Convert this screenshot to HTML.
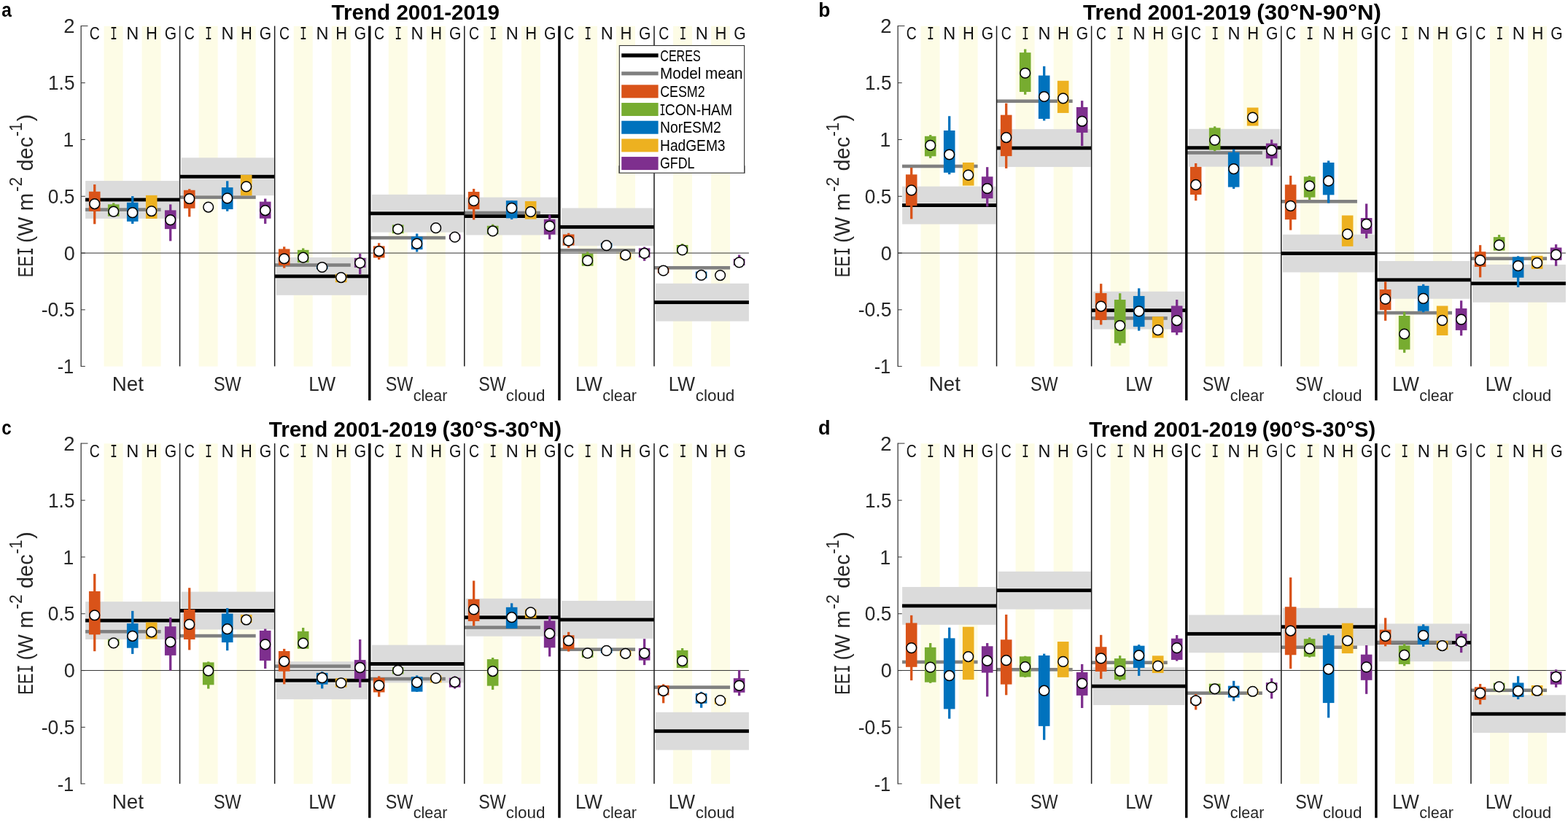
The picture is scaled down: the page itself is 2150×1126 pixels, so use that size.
<!DOCTYPE html>
<html lang="en">
<head>
<meta charset="utf-8">
<title>EEI trends 2001-2019</title>
<style>
html,body{margin:0;padding:0;background:#fff;}
body{width:2150px;height:1126px;overflow:hidden;}
svg{display:block;font-family:'Liberation Sans', 'DejaVu Sans', sans-serif;}
</style>
</head>
<body>
<svg width="2150" height="1126" viewBox="0 0 2150 1126">
<rect width="2150" height="1126" fill="#fff"/>
<g id="panel-a" transform="translate(0,0)">
<rect x="142.53" y="35.8" width="26.02" height="466.7" fill="#FDFCE6"/>
<rect x="194.57" y="35.8" width="26.02" height="466.7" fill="#FDFCE6"/>
<rect x="272.61" y="35.8" width="26.02" height="466.7" fill="#FDFCE6"/>
<rect x="324.65" y="35.8" width="26.02" height="466.7" fill="#FDFCE6"/>
<rect x="402.69" y="35.8" width="26.02" height="466.7" fill="#FDFCE6"/>
<rect x="454.73" y="35.8" width="26.02" height="466.7" fill="#FDFCE6"/>
<rect x="532.77" y="35.8" width="26.02" height="466.7" fill="#FDFCE6"/>
<rect x="584.81" y="35.8" width="26.02" height="466.7" fill="#FDFCE6"/>
<rect x="662.85" y="35.8" width="26.02" height="466.7" fill="#FDFCE6"/>
<rect x="714.89" y="35.8" width="26.02" height="466.7" fill="#FDFCE6"/>
<rect x="792.93" y="35.8" width="26.02" height="466.7" fill="#FDFCE6"/>
<rect x="844.97" y="35.8" width="26.02" height="466.7" fill="#FDFCE6"/>
<rect x="923.01" y="35.8" width="26.02" height="466.7" fill="#FDFCE6"/>
<rect x="975.05" y="35.8" width="26.02" height="466.7" fill="#FDFCE6"/>
<rect x="117.12" y="248.03" width="128.33" height="51.8" fill="#DBDBDB"/>
<rect x="117.12" y="270.58" width="128.33" height="6.7" fill="#EEEEEE"/>
<rect x="248.65" y="216.33" width="126.88" height="51.8" fill="#DBDBDB"/>
<rect x="248.65" y="238.88" width="126.88" height="6.7" fill="#EEEEEE"/>
<rect x="378.73" y="353.03" width="125.73" height="51.8" fill="#DBDBDB"/>
<rect x="378.73" y="375.58" width="125.73" height="6.7" fill="#EEEEEE"/>
<rect x="509.96" y="266.84" width="125.73" height="51.8" fill="#DBDBDB"/>
<rect x="509.96" y="289.39" width="125.73" height="6.7" fill="#EEEEEE"/>
<rect x="638.89" y="270.61" width="125.73" height="51.8" fill="#DBDBDB"/>
<rect x="638.89" y="293.16" width="125.73" height="6.7" fill="#EEEEEE"/>
<rect x="770.12" y="285.4" width="125.73" height="51.8" fill="#DBDBDB"/>
<rect x="770.12" y="307.95" width="125.73" height="6.7" fill="#EEEEEE"/>
<rect x="899.05" y="388.77" width="127.85" height="51.8" fill="#DBDBDB"/>
<rect x="899.05" y="411.32" width="127.85" height="6.7" fill="#EEEEEE"/>
<rect x="111.15" y="346.55" width="915.75" height="1" fill="#333"/>
<rect x="117.02" y="271.48" width="129.58" height="4.9" fill="#000"/>
<rect x="246.6" y="239.78" width="130.08" height="4.9" fill="#000"/>
<rect x="376.68" y="376.48" width="130.08" height="4.9" fill="#000"/>
<rect x="506.76" y="290.29" width="130.08" height="4.9" fill="#000"/>
<rect x="636.84" y="294.06" width="130.08" height="4.9" fill="#000"/>
<rect x="766.92" y="308.85" width="130.08" height="4.9" fill="#000"/>
<rect x="897" y="412.22" width="129.9" height="4.9" fill="#000"/>
<rect x="117.02" y="285.25" width="103.56" height="4.6" fill="#808080"/>
<rect x="246.6" y="268.26" width="104.06" height="4.6" fill="#808080"/>
<rect x="376.68" y="361.25" width="104.06" height="4.6" fill="#808080"/>
<rect x="506.76" y="323.85" width="104.06" height="4.6" fill="#808080"/>
<rect x="636.84" y="289.66" width="104.06" height="4.6" fill="#808080"/>
<rect x="766.92" y="341.04" width="104.06" height="4.6" fill="#808080"/>
<rect x="897" y="364.96" width="104.06" height="4.6" fill="#808080"/>
<rect x="245.8" y="35.6" width="1.5" height="466.8" fill="#1c1c1c"/>
<rect x="375.88" y="35.6" width="1.5" height="466.8" fill="#1c1c1c"/>
<rect x="505.06" y="35.6" width="3.4" height="513.6" fill="#000"/>
<rect x="636.04" y="35.6" width="1.5" height="466.8" fill="#1c1c1c"/>
<rect x="765.22" y="35.6" width="3.4" height="513.6" fill="#000"/>
<rect x="896.2" y="35.6" width="1.5" height="466.8" fill="#1c1c1c"/>
<rect x="110.55" y="35.1" width="1.2" height="467.8" fill="#2e2e2e"/>
<rect x="111.15" y="35.1" width="9.3" height="1" fill="#333"/>
<rect x="111.15" y="113.15" width="5.6" height="1" fill="#333"/>
<rect x="111.15" y="190.95" width="5.6" height="1" fill="#333"/>
<rect x="111.15" y="268.75" width="5.6" height="1" fill="#333"/>
<rect x="111.15" y="346.55" width="5.6" height="1" fill="#333"/>
<rect x="111.15" y="424.35" width="5.6" height="1" fill="#333"/>
<rect x="111.15" y="501.9" width="5.6" height="1" fill="#333"/>
<rect x="128.08" y="252.98" width="3.3" height="54.31" fill="#D95319"/>
<rect x="121.93" y="262.74" width="15.6" height="26.96" fill="#D95319"/>
<rect x="154.07" y="278.37" width="3.3" height="18.56" fill="#77AC30"/>
<rect x="147.92" y="280.33" width="15.6" height="16.21" fill="#77AC30"/>
<rect x="180.07" y="269" width="3.3" height="37.9" fill="#0072BD"/>
<rect x="173.92" y="277.79" width="15.6" height="25.98" fill="#0072BD"/>
<rect x="199.91" y="267.82" width="15.6" height="32.04" fill="#EDB120"/>
<rect x="232.06" y="280.33" width="3.3" height="50.21" fill="#7E2F8E"/>
<rect x="225.91" y="288.34" width="15.6" height="25.79" fill="#7E2F8E"/>
<rect x="258.06" y="259.23" width="3.3" height="38.09" fill="#D95319"/>
<rect x="251.91" y="260.79" width="15.6" height="25" fill="#D95319"/>
<rect x="310.05" y="248.29" width="3.3" height="41.41" fill="#0072BD"/>
<rect x="303.9" y="257.08" width="15.6" height="29.89" fill="#0072BD"/>
<rect x="329.89" y="239.89" width="15.6" height="28.33" fill="#EDB120"/>
<rect x="362.04" y="272.51" width="3.3" height="34.38" fill="#7E2F8E"/>
<rect x="355.89" y="276.61" width="15.6" height="23.05" fill="#7E2F8E"/>
<rect x="388.04" y="338.35" width="3.3" height="29.3" fill="#D95319"/>
<rect x="381.89" y="341.47" width="15.6" height="22.47" fill="#D95319"/>
<rect x="414.03" y="340.49" width="3.3" height="19.93" fill="#77AC30"/>
<rect x="407.88" y="342.84" width="15.6" height="17.19" fill="#77AC30"/>
<rect x="433.88" y="364.33" width="15.6" height="4.88" fill="#0072BD"/>
<rect x="459.87" y="375.66" width="15.6" height="11.53" fill="#EDB120"/>
<rect x="492.02" y="347.92" width="3.3" height="28.13" fill="#7E2F8E"/>
<rect x="485.87" y="353.97" width="15.6" height="12.89" fill="#7E2F8E"/>
<rect x="518.02" y="333.38" width="3.3" height="22.66" fill="#D95319"/>
<rect x="511.87" y="337.48" width="15.6" height="16.02" fill="#D95319"/>
<rect x="537.86" y="308.37" width="15.6" height="11.72" fill="#77AC30"/>
<rect x="570.01" y="320.48" width="3.3" height="25" fill="#0072BD"/>
<rect x="563.86" y="324.59" width="15.6" height="17.58" fill="#0072BD"/>
<rect x="615.85" y="321.66" width="15.6" height="6.64" fill="#7E2F8E"/>
<rect x="648" y="258.95" width="3.3" height="42.39" fill="#D95319"/>
<rect x="641.85" y="263.05" width="15.6" height="24.03" fill="#D95319"/>
<rect x="673.99" y="307.59" width="3.3" height="14.46" fill="#77AC30"/>
<rect x="667.84" y="309.74" width="15.6" height="11.33" fill="#77AC30"/>
<rect x="699.99" y="275.16" width="3.3" height="25.79" fill="#0072BD"/>
<rect x="693.84" y="275.16" width="15.6" height="24.22" fill="#0072BD"/>
<rect x="719.83" y="275.94" width="15.6" height="24.61" fill="#EDB120"/>
<rect x="751.98" y="294.7" width="3.3" height="33.6" fill="#7E2F8E"/>
<rect x="745.83" y="300.75" width="15.6" height="20.9" fill="#7E2F8E"/>
<rect x="777.98" y="319.7" width="3.3" height="20.32" fill="#D95319"/>
<rect x="771.83" y="321.46" width="15.6" height="15.04" fill="#D95319"/>
<rect x="803.97" y="345.49" width="3.3" height="19.54" fill="#77AC30"/>
<rect x="797.82" y="347.83" width="15.6" height="16.8" fill="#77AC30"/>
<rect x="823.82" y="333.38" width="15.6" height="6.25" fill="#0072BD"/>
<rect x="849.81" y="346.47" width="15.6" height="9.18" fill="#EDB120"/>
<rect x="881.96" y="338.65" width="3.3" height="19.14" fill="#7E2F8E"/>
<rect x="875.81" y="340.41" width="15.6" height="12.7" fill="#7E2F8E"/>
<rect x="901.81" y="367.52" width="15.6" height="7.16" fill="#D95319"/>
<rect x="933.95" y="334.24" width="3.3" height="13.44" fill="#77AC30"/>
<rect x="927.8" y="336" width="15.6" height="11.68" fill="#77AC30"/>
<rect x="953.8" y="372.54" width="15.6" height="9.04" fill="#0072BD"/>
<rect x="1011.94" y="349.56" width="3.3" height="14.69" fill="#7E2F8E"/>
<rect x="1005.79" y="354.96" width="15.6" height="9.04" fill="#7E2F8E"/>
<circle cx="129.73" cy="279.54" r="6.85" fill="#fff" stroke="#000" stroke-width="1.5"/>
<circle cx="155.72" cy="290.09" r="6.85" fill="#fff" stroke="#000" stroke-width="1.5"/>
<circle cx="181.72" cy="291.66" r="6.85" fill="#fff" stroke="#000" stroke-width="1.5"/>
<circle cx="207.71" cy="289.51" r="6.85" fill="#fff" stroke="#000" stroke-width="1.5"/>
<circle cx="233.71" cy="301.62" r="6.85" fill="#fff" stroke="#000" stroke-width="1.5"/>
<circle cx="259.71" cy="272.51" r="6.85" fill="#fff" stroke="#000" stroke-width="1.5"/>
<circle cx="285.7" cy="284.04" r="6.85" fill="#fff" stroke="#000" stroke-width="1.5"/>
<circle cx="311.7" cy="271.93" r="6.85" fill="#fff" stroke="#000" stroke-width="1.5"/>
<circle cx="337.69" cy="255.91" r="6.85" fill="#fff" stroke="#000" stroke-width="1.5"/>
<circle cx="363.69" cy="288.53" r="6.85" fill="#fff" stroke="#000" stroke-width="1.5"/>
<circle cx="389.69" cy="354.75" r="6.85" fill="#fff" stroke="#000" stroke-width="1.5"/>
<circle cx="415.68" cy="353.19" r="6.85" fill="#fff" stroke="#000" stroke-width="1.5"/>
<circle cx="441.68" cy="366.48" r="6.85" fill="#fff" stroke="#000" stroke-width="1.5"/>
<circle cx="467.67" cy="380.54" r="6.85" fill="#fff" stroke="#000" stroke-width="1.5"/>
<circle cx="493.67" cy="360.62" r="6.85" fill="#fff" stroke="#000" stroke-width="1.5"/>
<circle cx="519.67" cy="344.51" r="6.85" fill="#fff" stroke="#000" stroke-width="1.5"/>
<circle cx="545.66" cy="314.23" r="6.85" fill="#fff" stroke="#000" stroke-width="1.5"/>
<circle cx="571.66" cy="334.16" r="6.85" fill="#fff" stroke="#000" stroke-width="1.5"/>
<circle cx="597.65" cy="312.67" r="6.85" fill="#fff" stroke="#000" stroke-width="1.5"/>
<circle cx="623.65" cy="325.17" r="6.85" fill="#fff" stroke="#000" stroke-width="1.5"/>
<circle cx="649.65" cy="275.36" r="6.85" fill="#fff" stroke="#000" stroke-width="1.5"/>
<circle cx="675.64" cy="316.97" r="6.85" fill="#fff" stroke="#000" stroke-width="1.5"/>
<circle cx="701.64" cy="285.32" r="6.85" fill="#fff" stroke="#000" stroke-width="1.5"/>
<circle cx="727.63" cy="290.4" r="6.85" fill="#fff" stroke="#000" stroke-width="1.5"/>
<circle cx="753.63" cy="310.13" r="6.85" fill="#fff" stroke="#000" stroke-width="1.5"/>
<circle cx="779.63" cy="330.25" r="6.85" fill="#fff" stroke="#000" stroke-width="1.5"/>
<circle cx="805.62" cy="357.41" r="6.85" fill="#fff" stroke="#000" stroke-width="1.5"/>
<circle cx="831.62" cy="336.7" r="6.85" fill="#fff" stroke="#000" stroke-width="1.5"/>
<circle cx="857.61" cy="349.79" r="6.85" fill="#fff" stroke="#000" stroke-width="1.5"/>
<circle cx="883.61" cy="347.44" r="6.85" fill="#fff" stroke="#000" stroke-width="1.5"/>
<circle cx="909.61" cy="371.16" r="6.85" fill="#fff" stroke="#000" stroke-width="1.5"/>
<circle cx="935.6" cy="342.9" r="6.85" fill="#fff" stroke="#000" stroke-width="1.5"/>
<circle cx="961.6" cy="377.44" r="6.85" fill="#fff" stroke="#000" stroke-width="1.5"/>
<circle cx="987.59" cy="377.56" r="6.85" fill="#fff" stroke="#000" stroke-width="1.5"/>
<circle cx="1013.59" cy="359.86" r="6.85" fill="#fff" stroke="#000" stroke-width="1.5"/>
<g class="models">
<text x="122.73" y="54" font-size="24.5" fill="#111" textLength="13.99" lengthAdjust="spacingAndGlyphs">C</text>
<text x="150.95" y="54" font-size="25.6" font-family="'Liberation Mono', monospace" fill="#111" textLength="9.9" lengthAdjust="spacingAndGlyphs">I</text>
<text x="173.31" y="54" font-size="24.5" fill="#111" textLength="17.02" lengthAdjust="spacingAndGlyphs">N</text>
<text x="200.04" y="54" font-size="24.5" fill="#111" textLength="15.86" lengthAdjust="spacingAndGlyphs">H</text>
<text x="225.65" y="54" font-size="24.5" fill="#111" textLength="16.39" lengthAdjust="spacingAndGlyphs">G</text>
<text x="252.81" y="54" font-size="24.5" fill="#111" textLength="13.99" lengthAdjust="spacingAndGlyphs">C</text>
<text x="281.03" y="54" font-size="25.6" font-family="'Liberation Mono', monospace" fill="#111" textLength="9.9" lengthAdjust="spacingAndGlyphs">I</text>
<text x="303.39" y="54" font-size="24.5" fill="#111" textLength="17.02" lengthAdjust="spacingAndGlyphs">N</text>
<text x="330.12" y="54" font-size="24.5" fill="#111" textLength="15.86" lengthAdjust="spacingAndGlyphs">H</text>
<text x="355.73" y="54" font-size="24.5" fill="#111" textLength="16.39" lengthAdjust="spacingAndGlyphs">G</text>
<text x="382.89" y="54" font-size="24.5" fill="#111" textLength="13.99" lengthAdjust="spacingAndGlyphs">C</text>
<text x="411.11" y="54" font-size="25.6" font-family="'Liberation Mono', monospace" fill="#111" textLength="9.9" lengthAdjust="spacingAndGlyphs">I</text>
<text x="433.47" y="54" font-size="24.5" fill="#111" textLength="17.02" lengthAdjust="spacingAndGlyphs">N</text>
<text x="460.2" y="54" font-size="24.5" fill="#111" textLength="15.86" lengthAdjust="spacingAndGlyphs">H</text>
<text x="485.81" y="54" font-size="24.5" fill="#111" textLength="16.39" lengthAdjust="spacingAndGlyphs">G</text>
<text x="512.97" y="54" font-size="24.5" fill="#111" textLength="13.99" lengthAdjust="spacingAndGlyphs">C</text>
<text x="541.19" y="54" font-size="25.6" font-family="'Liberation Mono', monospace" fill="#111" textLength="9.9" lengthAdjust="spacingAndGlyphs">I</text>
<text x="563.55" y="54" font-size="24.5" fill="#111" textLength="17.02" lengthAdjust="spacingAndGlyphs">N</text>
<text x="590.28" y="54" font-size="24.5" fill="#111" textLength="15.86" lengthAdjust="spacingAndGlyphs">H</text>
<text x="615.89" y="54" font-size="24.5" fill="#111" textLength="16.39" lengthAdjust="spacingAndGlyphs">G</text>
<text x="643.05" y="54" font-size="24.5" fill="#111" textLength="13.99" lengthAdjust="spacingAndGlyphs">C</text>
<text x="671.27" y="54" font-size="25.6" font-family="'Liberation Mono', monospace" fill="#111" textLength="9.9" lengthAdjust="spacingAndGlyphs">I</text>
<text x="693.63" y="54" font-size="24.5" fill="#111" textLength="17.02" lengthAdjust="spacingAndGlyphs">N</text>
<text x="720.36" y="54" font-size="24.5" fill="#111" textLength="15.86" lengthAdjust="spacingAndGlyphs">H</text>
<text x="745.97" y="54" font-size="24.5" fill="#111" textLength="16.39" lengthAdjust="spacingAndGlyphs">G</text>
<text x="773.13" y="54" font-size="24.5" fill="#111" textLength="13.99" lengthAdjust="spacingAndGlyphs">C</text>
<text x="801.35" y="54" font-size="25.6" font-family="'Liberation Mono', monospace" fill="#111" textLength="9.9" lengthAdjust="spacingAndGlyphs">I</text>
<text x="823.71" y="54" font-size="24.5" fill="#111" textLength="17.02" lengthAdjust="spacingAndGlyphs">N</text>
<text x="850.44" y="54" font-size="24.5" fill="#111" textLength="15.86" lengthAdjust="spacingAndGlyphs">H</text>
<text x="876.05" y="54" font-size="24.5" fill="#111" textLength="16.39" lengthAdjust="spacingAndGlyphs">G</text>
<text x="903.21" y="54" font-size="24.5" fill="#111" textLength="13.99" lengthAdjust="spacingAndGlyphs">C</text>
<text x="931.43" y="54" font-size="25.6" font-family="'Liberation Mono', monospace" fill="#111" textLength="9.9" lengthAdjust="spacingAndGlyphs">I</text>
<text x="953.79" y="54" font-size="24.5" fill="#111" textLength="17.02" lengthAdjust="spacingAndGlyphs">N</text>
<text x="980.52" y="54" font-size="24.5" fill="#111" textLength="15.86" lengthAdjust="spacingAndGlyphs">H</text>
<text x="1006.13" y="54" font-size="24.5" fill="#111" textLength="16.39" lengthAdjust="spacingAndGlyphs">G</text>
</g>
<text x="87.33" y="45.45" font-size="27.5" fill="#262626" textLength="15.28" lengthAdjust="spacingAndGlyphs">2</text>
<text x="66.09" y="123.25" font-size="27.5" fill="#262626" textLength="36.36" lengthAdjust="spacingAndGlyphs">1.5</text>
<text x="86.61" y="201.05" font-size="27.5" fill="#262626" textLength="14.75" lengthAdjust="spacingAndGlyphs">1</text>
<text x="65.85" y="278.85" font-size="27.5" fill="#262626" textLength="36.5" lengthAdjust="spacingAndGlyphs">0.5</text>
<text x="87.72" y="356.65" font-size="27.5" fill="#262626" textLength="14.99" lengthAdjust="spacingAndGlyphs">0</text>
<text x="56.71" y="434.45" font-size="27.5" fill="#262626" textLength="45.74" lengthAdjust="spacingAndGlyphs">-0.5</text>
<text x="78.66" y="512.25" font-size="27.5" fill="#262626" textLength="22.59" lengthAdjust="spacingAndGlyphs">-1</text>
<text x="153.79" y="536.4" font-size="27.7" fill="#262626" textLength="43.09" lengthAdjust="spacingAndGlyphs">Net</text>
<text x="292.94" y="536.4" font-size="27.7" fill="#262626" textLength="37.79" lengthAdjust="spacingAndGlyphs">SW</text>
<text x="423.23" y="536.4" font-size="27.7" fill="#262626" textLength="36.81" lengthAdjust="spacingAndGlyphs">LW</text>
<text y="536.4" font-size="27.7" fill="#262626"><tspan x="528.75" textLength="37.69" lengthAdjust="spacingAndGlyphs">SW</tspan><tspan x="566.84" dy="13.25" font-size="22.3" textLength="46.44" lengthAdjust="spacingAndGlyphs">clear</tspan></text>
<text y="536.4" font-size="27.7" fill="#262626"><tspan x="656.25" textLength="37.48" lengthAdjust="spacingAndGlyphs">SW</tspan><tspan x="693.89" dy="13.25" font-size="22.3" textLength="53.68" lengthAdjust="spacingAndGlyphs">cloud</tspan></text>
<text y="536.4" font-size="27.7" fill="#262626"><tspan x="789.03" textLength="36.81" lengthAdjust="spacingAndGlyphs">LW</tspan><tspan x="826.23" dy="13.25" font-size="22.3" textLength="46.75" lengthAdjust="spacingAndGlyphs">clear</tspan></text>
<text y="536.4" font-size="27.7" fill="#262626"><tspan x="916.76" textLength="36.28" lengthAdjust="spacingAndGlyphs">LW</tspan><tspan x="953.69" dy="13.25" font-size="22.3" textLength="53.68" lengthAdjust="spacingAndGlyphs">cloud</tspan></text>
<text x="454.6" y="26.9" font-size="30.4" font-weight="bold" fill="#000" textLength="230.31" lengthAdjust="spacingAndGlyphs">Trend 2001-2019</text>
<text x="2.36" y="23.1" font-size="27.6" font-weight="bold" fill="#000" textLength="13.64" lengthAdjust="spacingAndGlyphs">a</text>
<text transform="translate(44.9,0) rotate(-90)" y="0" fill="#262626"><tspan x="-380.15" font-size="30" textLength="29.11" lengthAdjust="spacingAndGlyphs">EE</tspan><tspan x="-350.82" font-size="31.4" font-family="'Liberation Mono', monospace" textLength="11.55" lengthAdjust="spacingAndGlyphs">I</tspan> <tspan x="-333" font-size="30" textLength="35.19" lengthAdjust="spacingAndGlyphs">(W</tspan> <tspan x="-289.21" font-size="30" textLength="24.52" lengthAdjust="spacingAndGlyphs">m</tspan><tspan x="-263.02" dy="-14.6" font-size="24.3" textLength="20.13" lengthAdjust="spacingAndGlyphs">-2</tspan> <tspan x="-234.45" dy="14.6" font-size="30" textLength="46.54" lengthAdjust="spacingAndGlyphs">dec</tspan><tspan x="-187.27" dy="-14.6" font-size="24.3" textLength="19.13" lengthAdjust="spacingAndGlyphs">-1</tspan><tspan x="-166.59" dy="14.6" font-size="30" textLength="9.74" lengthAdjust="spacingAndGlyphs">)</tspan></text>
<rect x="849.3" y="62.5" width="171.3" height="174.7" fill="#fff" stroke="#333" stroke-width="1.1"/>
<rect x="848.4" y="227.2" width="1" height="10.5" fill="#444"/>
<rect x="1020.5" y="227.2" width="1" height="10.5" fill="#444"/>
<rect x="852.2" y="73.35" width="50.4" height="5.3" fill="#000"/>
<text x="905.3" y="83.5" font-size="21.2" fill="#000" textLength="55.33" lengthAdjust="spacingAndGlyphs">CERES</text>
<rect x="852.2" y="98.23" width="50.4" height="5.1" fill="#808080"/>
<text x="905.05" y="108" font-size="21.2" fill="#000" textLength="113.55" lengthAdjust="spacingAndGlyphs">Model mean</text>
<rect x="852.2" y="116.36" width="50.4" height="18" fill="#D95319"/>
<text x="905.21" y="132.6" font-size="21.2" fill="#000" textLength="61.39" lengthAdjust="spacingAndGlyphs">CESM2</text>
<rect x="852.2" y="141.04" width="50.4" height="18" fill="#77AC30"/>
<text y="157.9" fill="#000"><tspan x="904.2" font-size="22.15" font-family="'Liberation Mono', monospace" textLength="8.4" lengthAdjust="spacingAndGlyphs">I</tspan><tspan x="911.73" font-size="21.2" textLength="92.41" lengthAdjust="spacingAndGlyphs">CON-HAM</tspan></text>
<rect x="852.2" y="165.72" width="50.4" height="18" fill="#0072BD"/>
<text x="905.05" y="181.9" font-size="21.2" fill="#000" textLength="83.8" lengthAdjust="spacingAndGlyphs">NorESM2</text>
<rect x="852.2" y="190.4" width="50.4" height="18" fill="#EDB120"/>
<text x="905.07" y="206.6" font-size="21.2" fill="#000" textLength="89.47" lengthAdjust="spacingAndGlyphs">HadGEM3</text>
<rect x="852.2" y="215.08" width="50.4" height="18" fill="#7E2F8E"/>
<text x="905.01" y="231.05" font-size="21.2" fill="#000" textLength="47.46" lengthAdjust="spacingAndGlyphs">GFDL</text>
</g>
<g id="panel-b" transform="translate(1120,0)">
<rect x="142.53" y="35.8" width="26.02" height="466.7" fill="#FDFCE6"/>
<rect x="194.57" y="35.8" width="26.02" height="466.7" fill="#FDFCE6"/>
<rect x="272.61" y="35.8" width="26.02" height="466.7" fill="#FDFCE6"/>
<rect x="324.65" y="35.8" width="26.02" height="466.7" fill="#FDFCE6"/>
<rect x="402.69" y="35.8" width="26.02" height="466.7" fill="#FDFCE6"/>
<rect x="454.73" y="35.8" width="26.02" height="466.7" fill="#FDFCE6"/>
<rect x="532.77" y="35.8" width="26.02" height="466.7" fill="#FDFCE6"/>
<rect x="584.81" y="35.8" width="26.02" height="466.7" fill="#FDFCE6"/>
<rect x="662.85" y="35.8" width="26.02" height="466.7" fill="#FDFCE6"/>
<rect x="714.89" y="35.8" width="26.02" height="466.7" fill="#FDFCE6"/>
<rect x="792.93" y="35.8" width="26.02" height="466.7" fill="#FDFCE6"/>
<rect x="844.97" y="35.8" width="26.02" height="466.7" fill="#FDFCE6"/>
<rect x="923.01" y="35.8" width="26.02" height="466.7" fill="#FDFCE6"/>
<rect x="975.05" y="35.8" width="26.02" height="466.7" fill="#FDFCE6"/>
<rect x="117.12" y="255.66" width="128.33" height="51.8" fill="#DBDBDB"/>
<rect x="117.12" y="278.21" width="128.33" height="6.7" fill="#EEEEEE"/>
<rect x="248.65" y="177.15" width="126.88" height="51.8" fill="#DBDBDB"/>
<rect x="248.65" y="199.7" width="126.88" height="6.7" fill="#EEEEEE"/>
<rect x="378.73" y="399.79" width="125.73" height="51.8" fill="#DBDBDB"/>
<rect x="378.73" y="422.34" width="125.73" height="6.7" fill="#EEEEEE"/>
<rect x="509.96" y="176.82" width="125.73" height="51.8" fill="#DBDBDB"/>
<rect x="509.96" y="199.37" width="125.73" height="6.7" fill="#EEEEEE"/>
<rect x="638.89" y="321.67" width="125.73" height="51.8" fill="#DBDBDB"/>
<rect x="638.89" y="344.22" width="125.73" height="6.7" fill="#EEEEEE"/>
<rect x="770.12" y="357.97" width="125.73" height="51.8" fill="#DBDBDB"/>
<rect x="770.12" y="380.52" width="125.73" height="6.7" fill="#EEEEEE"/>
<rect x="899.05" y="362.89" width="127.85" height="51.8" fill="#DBDBDB"/>
<rect x="899.05" y="385.44" width="127.85" height="6.7" fill="#EEEEEE"/>
<rect x="111.15" y="346.55" width="915.75" height="1" fill="#333"/>
<rect x="117.02" y="279.11" width="129.58" height="4.9" fill="#000"/>
<rect x="246.6" y="200.6" width="130.08" height="4.9" fill="#000"/>
<rect x="376.68" y="423.24" width="130.08" height="4.9" fill="#000"/>
<rect x="506.76" y="200.27" width="130.08" height="4.9" fill="#000"/>
<rect x="636.84" y="345.12" width="130.08" height="4.9" fill="#000"/>
<rect x="766.92" y="381.42" width="130.08" height="4.9" fill="#000"/>
<rect x="897" y="386.34" width="129.9" height="4.9" fill="#000"/>
<rect x="117.02" y="225.7" width="103.56" height="4.6" fill="#808080"/>
<rect x="246.6" y="136.43" width="104.06" height="4.6" fill="#808080"/>
<rect x="376.68" y="434.14" width="104.06" height="4.6" fill="#808080"/>
<rect x="506.76" y="207.21" width="104.06" height="4.6" fill="#808080"/>
<rect x="636.84" y="274.02" width="104.06" height="4.6" fill="#808080"/>
<rect x="766.92" y="426.79" width="104.06" height="4.6" fill="#808080"/>
<rect x="897" y="352.33" width="104.06" height="4.6" fill="#808080"/>
<rect x="245.8" y="35.6" width="1.5" height="466.8" fill="#1c1c1c"/>
<rect x="375.88" y="35.6" width="1.5" height="466.8" fill="#1c1c1c"/>
<rect x="505.06" y="35.6" width="3.4" height="513.6" fill="#000"/>
<rect x="636.04" y="35.6" width="1.5" height="466.8" fill="#1c1c1c"/>
<rect x="765.22" y="35.6" width="3.4" height="513.6" fill="#000"/>
<rect x="896.2" y="35.6" width="1.5" height="466.8" fill="#1c1c1c"/>
<rect x="110.55" y="35.1" width="1.2" height="467.8" fill="#2e2e2e"/>
<rect x="111.15" y="35.1" width="9.3" height="1" fill="#333"/>
<rect x="111.15" y="113.15" width="5.6" height="1" fill="#333"/>
<rect x="111.15" y="190.95" width="5.6" height="1" fill="#333"/>
<rect x="111.15" y="268.75" width="5.6" height="1" fill="#333"/>
<rect x="111.15" y="346.55" width="5.6" height="1" fill="#333"/>
<rect x="111.15" y="424.35" width="5.6" height="1" fill="#333"/>
<rect x="111.15" y="501.9" width="5.6" height="1" fill="#333"/>
<rect x="128.08" y="229.96" width="3.3" height="70.34" fill="#D95319"/>
<rect x="121.93" y="239.33" width="15.6" height="42.77" fill="#D95319"/>
<rect x="154.07" y="185.02" width="3.3" height="31.84" fill="#77AC30"/>
<rect x="147.92" y="186.78" width="15.6" height="27.54" fill="#77AC30"/>
<rect x="180.07" y="159.24" width="3.3" height="79.9" fill="#0072BD"/>
<rect x="173.92" y="178.97" width="15.6" height="57.82" fill="#0072BD"/>
<rect x="199.91" y="222.92" width="15.6" height="31.65" fill="#EDB120"/>
<rect x="232.06" y="229.17" width="3.3" height="54.13" fill="#7E2F8E"/>
<rect x="225.91" y="242.26" width="15.6" height="29.89" fill="#7E2F8E"/>
<rect x="258.06" y="141.66" width="3.3" height="89.28" fill="#D95319"/>
<rect x="251.91" y="157.68" width="15.6" height="56.46" fill="#D95319"/>
<rect x="284.05" y="67.42" width="3.3" height="62.32" fill="#77AC30"/>
<rect x="277.9" y="72.11" width="15.6" height="53.92" fill="#77AC30"/>
<rect x="310.05" y="90.87" width="3.3" height="74.62" fill="#0072BD"/>
<rect x="303.9" y="103.56" width="15.6" height="59.39" fill="#0072BD"/>
<rect x="329.89" y="110.79" width="15.6" height="44.15" fill="#EDB120"/>
<rect x="362.04" y="138.14" width="3.3" height="61.93" fill="#7E2F8E"/>
<rect x="355.89" y="146.93" width="15.6" height="34.97" fill="#7E2F8E"/>
<rect x="388.04" y="389.16" width="3.3" height="56.26" fill="#D95319"/>
<rect x="381.89" y="402.06" width="15.6" height="36.92" fill="#D95319"/>
<rect x="414.03" y="402.25" width="3.3" height="71.5" fill="#77AC30"/>
<rect x="407.88" y="411.04" width="15.6" height="59.58" fill="#77AC30"/>
<rect x="440.03" y="395.42" width="3.3" height="58.21" fill="#0072BD"/>
<rect x="433.88" y="405.96" width="15.6" height="42.2" fill="#0072BD"/>
<rect x="459.87" y="434.29" width="15.6" height="29.11" fill="#EDB120"/>
<rect x="492.02" y="411.04" width="3.3" height="48.45" fill="#7E2F8E"/>
<rect x="485.87" y="419.44" width="15.6" height="36.53" fill="#7E2F8E"/>
<rect x="518.02" y="223.96" width="3.3" height="51.18" fill="#D95319"/>
<rect x="511.87" y="228.85" width="15.6" height="38.09" fill="#D95319"/>
<rect x="544.01" y="173.37" width="3.3" height="33.8" fill="#77AC30"/>
<rect x="537.86" y="175.32" width="15.6" height="30.47" fill="#77AC30"/>
<rect x="570.01" y="204.62" width="3.3" height="54.31" fill="#0072BD"/>
<rect x="563.86" y="208.92" width="15.6" height="47.67" fill="#0072BD"/>
<rect x="589.85" y="147.58" width="15.6" height="25" fill="#EDB120"/>
<rect x="622" y="191.54" width="3.3" height="35.16" fill="#7E2F8E"/>
<rect x="615.85" y="196.61" width="15.6" height="20.71" fill="#7E2F8E"/>
<rect x="648" y="240.96" width="3.3" height="74.62" fill="#D95319"/>
<rect x="641.85" y="253.27" width="15.6" height="47.86" fill="#D95319"/>
<rect x="673.99" y="240.96" width="3.3" height="33.01" fill="#77AC30"/>
<rect x="667.84" y="242.33" width="15.6" height="28.33" fill="#77AC30"/>
<rect x="699.99" y="220.45" width="3.3" height="58.02" fill="#0072BD"/>
<rect x="693.84" y="222.99" width="15.6" height="44.34" fill="#0072BD"/>
<rect x="719.83" y="295.46" width="15.6" height="42.39" fill="#EDB120"/>
<rect x="751.98" y="279.44" width="3.3" height="47.47" fill="#7E2F8E"/>
<rect x="745.83" y="298.98" width="15.6" height="21.68" fill="#7E2F8E"/>
<rect x="777.98" y="386.31" width="3.3" height="53.53" fill="#D95319"/>
<rect x="771.83" y="397.05" width="15.6" height="28.13" fill="#D95319"/>
<rect x="803.97" y="427.92" width="3.3" height="55.87" fill="#77AC30"/>
<rect x="797.82" y="433" width="15.6" height="46.49" fill="#77AC30"/>
<rect x="829.97" y="389.82" width="3.3" height="38.48" fill="#0072BD"/>
<rect x="823.82" y="391.97" width="15.6" height="34.77" fill="#0072BD"/>
<rect x="849.81" y="419.52" width="15.6" height="40.44" fill="#EDB120"/>
<rect x="881.96" y="412.29" width="3.3" height="48.06" fill="#7E2F8E"/>
<rect x="875.81" y="423.03" width="15.6" height="29.89" fill="#7E2F8E"/>
<rect x="907.96" y="336.17" width="3.3" height="44.2" fill="#D95319"/>
<rect x="901.81" y="345.21" width="15.6" height="20.72" fill="#D95319"/>
<rect x="933.95" y="321.98" width="3.3" height="21.98" fill="#77AC30"/>
<rect x="927.8" y="325.12" width="15.6" height="18.46" fill="#77AC30"/>
<rect x="959.95" y="351.24" width="3.3" height="42.7" fill="#0072BD"/>
<rect x="953.8" y="352.49" width="15.6" height="28.26" fill="#0072BD"/>
<rect x="979.79" y="350.86" width="15.6" height="17.96" fill="#EDB120"/>
<rect x="1011.94" y="335.16" width="3.3" height="29.64" fill="#7E2F8E"/>
<rect x="1005.79" y="339.56" width="15.6" height="17.2" fill="#7E2F8E"/>
<circle cx="129.73" cy="260.82" r="6.85" fill="#fff" stroke="#000" stroke-width="1.5"/>
<circle cx="155.72" cy="199.29" r="6.85" fill="#fff" stroke="#000" stroke-width="1.5"/>
<circle cx="181.72" cy="211.98" r="6.85" fill="#fff" stroke="#000" stroke-width="1.5"/>
<circle cx="207.71" cy="240.11" r="6.85" fill="#fff" stroke="#000" stroke-width="1.5"/>
<circle cx="233.71" cy="258.48" r="6.85" fill="#fff" stroke="#000" stroke-width="1.5"/>
<circle cx="259.71" cy="188.54" r="6.85" fill="#fff" stroke="#000" stroke-width="1.5"/>
<circle cx="285.7" cy="100.24" r="6.85" fill="#fff" stroke="#000" stroke-width="1.5"/>
<circle cx="311.7" cy="132.48" r="6.85" fill="#fff" stroke="#000" stroke-width="1.5"/>
<circle cx="337.69" cy="134.82" r="6.85" fill="#fff" stroke="#000" stroke-width="1.5"/>
<circle cx="363.69" cy="166.27" r="6.85" fill="#fff" stroke="#000" stroke-width="1.5"/>
<circle cx="389.69" cy="420.03" r="6.85" fill="#fff" stroke="#000" stroke-width="1.5"/>
<circle cx="415.68" cy="446.6" r="6.85" fill="#fff" stroke="#000" stroke-width="1.5"/>
<circle cx="441.68" cy="426.87" r="6.85" fill="#fff" stroke="#000" stroke-width="1.5"/>
<circle cx="467.67" cy="452.65" r="6.85" fill="#fff" stroke="#000" stroke-width="1.5"/>
<circle cx="493.67" cy="439.56" r="6.85" fill="#fff" stroke="#000" stroke-width="1.5"/>
<circle cx="519.67" cy="253.46" r="6.85" fill="#fff" stroke="#000" stroke-width="1.5"/>
<circle cx="545.66" cy="192.12" r="6.85" fill="#fff" stroke="#000" stroke-width="1.5"/>
<circle cx="571.66" cy="231.58" r="6.85" fill="#fff" stroke="#000" stroke-width="1.5"/>
<circle cx="597.65" cy="161.06" r="6.85" fill="#fff" stroke="#000" stroke-width="1.5"/>
<circle cx="623.65" cy="206.19" r="6.85" fill="#fff" stroke="#000" stroke-width="1.5"/>
<circle cx="649.65" cy="282.37" r="6.85" fill="#fff" stroke="#000" stroke-width="1.5"/>
<circle cx="675.64" cy="255.02" r="6.85" fill="#fff" stroke="#000" stroke-width="1.5"/>
<circle cx="701.64" cy="248.19" r="6.85" fill="#fff" stroke="#000" stroke-width="1.5"/>
<circle cx="727.63" cy="321.05" r="6.85" fill="#fff" stroke="#000" stroke-width="1.5"/>
<circle cx="753.63" cy="307.38" r="6.85" fill="#fff" stroke="#000" stroke-width="1.5"/>
<circle cx="779.63" cy="410.14" r="6.85" fill="#fff" stroke="#000" stroke-width="1.5"/>
<circle cx="805.62" cy="458" r="6.85" fill="#fff" stroke="#000" stroke-width="1.5"/>
<circle cx="831.62" cy="409.36" r="6.85" fill="#fff" stroke="#000" stroke-width="1.5"/>
<circle cx="857.61" cy="439.44" r="6.85" fill="#fff" stroke="#000" stroke-width="1.5"/>
<circle cx="883.61" cy="438.08" r="6.85" fill="#fff" stroke="#000" stroke-width="1.5"/>
<circle cx="909.61" cy="356.89" r="6.85" fill="#fff" stroke="#000" stroke-width="1.5"/>
<circle cx="935.6" cy="336.17" r="6.85" fill="#fff" stroke="#000" stroke-width="1.5"/>
<circle cx="961.6" cy="364.67" r="6.85" fill="#fff" stroke="#000" stroke-width="1.5"/>
<circle cx="987.59" cy="360.66" r="6.85" fill="#fff" stroke="#000" stroke-width="1.5"/>
<circle cx="1013.59" cy="349.35" r="6.85" fill="#fff" stroke="#000" stroke-width="1.5"/>
<g class="models">
<text x="122.73" y="54" font-size="24.5" fill="#111" textLength="13.99" lengthAdjust="spacingAndGlyphs">C</text>
<text x="150.95" y="54" font-size="25.6" font-family="'Liberation Mono', monospace" fill="#111" textLength="9.9" lengthAdjust="spacingAndGlyphs">I</text>
<text x="173.31" y="54" font-size="24.5" fill="#111" textLength="17.02" lengthAdjust="spacingAndGlyphs">N</text>
<text x="200.04" y="54" font-size="24.5" fill="#111" textLength="15.86" lengthAdjust="spacingAndGlyphs">H</text>
<text x="225.65" y="54" font-size="24.5" fill="#111" textLength="16.39" lengthAdjust="spacingAndGlyphs">G</text>
<text x="252.81" y="54" font-size="24.5" fill="#111" textLength="13.99" lengthAdjust="spacingAndGlyphs">C</text>
<text x="281.03" y="54" font-size="25.6" font-family="'Liberation Mono', monospace" fill="#111" textLength="9.9" lengthAdjust="spacingAndGlyphs">I</text>
<text x="303.39" y="54" font-size="24.5" fill="#111" textLength="17.02" lengthAdjust="spacingAndGlyphs">N</text>
<text x="330.12" y="54" font-size="24.5" fill="#111" textLength="15.86" lengthAdjust="spacingAndGlyphs">H</text>
<text x="355.73" y="54" font-size="24.5" fill="#111" textLength="16.39" lengthAdjust="spacingAndGlyphs">G</text>
<text x="382.89" y="54" font-size="24.5" fill="#111" textLength="13.99" lengthAdjust="spacingAndGlyphs">C</text>
<text x="411.11" y="54" font-size="25.6" font-family="'Liberation Mono', monospace" fill="#111" textLength="9.9" lengthAdjust="spacingAndGlyphs">I</text>
<text x="433.47" y="54" font-size="24.5" fill="#111" textLength="17.02" lengthAdjust="spacingAndGlyphs">N</text>
<text x="460.2" y="54" font-size="24.5" fill="#111" textLength="15.86" lengthAdjust="spacingAndGlyphs">H</text>
<text x="485.81" y="54" font-size="24.5" fill="#111" textLength="16.39" lengthAdjust="spacingAndGlyphs">G</text>
<text x="512.97" y="54" font-size="24.5" fill="#111" textLength="13.99" lengthAdjust="spacingAndGlyphs">C</text>
<text x="541.19" y="54" font-size="25.6" font-family="'Liberation Mono', monospace" fill="#111" textLength="9.9" lengthAdjust="spacingAndGlyphs">I</text>
<text x="563.55" y="54" font-size="24.5" fill="#111" textLength="17.02" lengthAdjust="spacingAndGlyphs">N</text>
<text x="590.28" y="54" font-size="24.5" fill="#111" textLength="15.86" lengthAdjust="spacingAndGlyphs">H</text>
<text x="615.89" y="54" font-size="24.5" fill="#111" textLength="16.39" lengthAdjust="spacingAndGlyphs">G</text>
<text x="643.05" y="54" font-size="24.5" fill="#111" textLength="13.99" lengthAdjust="spacingAndGlyphs">C</text>
<text x="671.27" y="54" font-size="25.6" font-family="'Liberation Mono', monospace" fill="#111" textLength="9.9" lengthAdjust="spacingAndGlyphs">I</text>
<text x="693.63" y="54" font-size="24.5" fill="#111" textLength="17.02" lengthAdjust="spacingAndGlyphs">N</text>
<text x="720.36" y="54" font-size="24.5" fill="#111" textLength="15.86" lengthAdjust="spacingAndGlyphs">H</text>
<text x="745.97" y="54" font-size="24.5" fill="#111" textLength="16.39" lengthAdjust="spacingAndGlyphs">G</text>
<text x="773.13" y="54" font-size="24.5" fill="#111" textLength="13.99" lengthAdjust="spacingAndGlyphs">C</text>
<text x="801.35" y="54" font-size="25.6" font-family="'Liberation Mono', monospace" fill="#111" textLength="9.9" lengthAdjust="spacingAndGlyphs">I</text>
<text x="823.71" y="54" font-size="24.5" fill="#111" textLength="17.02" lengthAdjust="spacingAndGlyphs">N</text>
<text x="850.44" y="54" font-size="24.5" fill="#111" textLength="15.86" lengthAdjust="spacingAndGlyphs">H</text>
<text x="876.05" y="54" font-size="24.5" fill="#111" textLength="16.39" lengthAdjust="spacingAndGlyphs">G</text>
<text x="903.21" y="54" font-size="24.5" fill="#111" textLength="13.99" lengthAdjust="spacingAndGlyphs">C</text>
<text x="931.43" y="54" font-size="25.6" font-family="'Liberation Mono', monospace" fill="#111" textLength="9.9" lengthAdjust="spacingAndGlyphs">I</text>
<text x="953.79" y="54" font-size="24.5" fill="#111" textLength="17.02" lengthAdjust="spacingAndGlyphs">N</text>
<text x="980.52" y="54" font-size="24.5" fill="#111" textLength="15.86" lengthAdjust="spacingAndGlyphs">H</text>
<text x="1006.13" y="54" font-size="24.5" fill="#111" textLength="16.39" lengthAdjust="spacingAndGlyphs">G</text>
</g>
<text x="87.33" y="45.45" font-size="27.5" fill="#262626" textLength="15.28" lengthAdjust="spacingAndGlyphs">2</text>
<text x="66.09" y="123.25" font-size="27.5" fill="#262626" textLength="36.36" lengthAdjust="spacingAndGlyphs">1.5</text>
<text x="86.61" y="201.05" font-size="27.5" fill="#262626" textLength="14.75" lengthAdjust="spacingAndGlyphs">1</text>
<text x="65.85" y="278.85" font-size="27.5" fill="#262626" textLength="36.5" lengthAdjust="spacingAndGlyphs">0.5</text>
<text x="87.72" y="356.65" font-size="27.5" fill="#262626" textLength="14.99" lengthAdjust="spacingAndGlyphs">0</text>
<text x="56.71" y="434.45" font-size="27.5" fill="#262626" textLength="45.74" lengthAdjust="spacingAndGlyphs">-0.5</text>
<text x="78.66" y="512.25" font-size="27.5" fill="#262626" textLength="22.59" lengthAdjust="spacingAndGlyphs">-1</text>
<text x="153.79" y="536.4" font-size="27.7" fill="#262626" textLength="43.09" lengthAdjust="spacingAndGlyphs">Net</text>
<text x="292.94" y="536.4" font-size="27.7" fill="#262626" textLength="37.79" lengthAdjust="spacingAndGlyphs">SW</text>
<text x="423.23" y="536.4" font-size="27.7" fill="#262626" textLength="36.81" lengthAdjust="spacingAndGlyphs">LW</text>
<text y="536.4" font-size="27.7" fill="#262626"><tspan x="528.75" textLength="37.69" lengthAdjust="spacingAndGlyphs">SW</tspan><tspan x="566.84" dy="13.25" font-size="22.3" textLength="46.44" lengthAdjust="spacingAndGlyphs">clear</tspan></text>
<text y="536.4" font-size="27.7" fill="#262626"><tspan x="656.25" textLength="37.48" lengthAdjust="spacingAndGlyphs">SW</tspan><tspan x="693.89" dy="13.25" font-size="22.3" textLength="53.68" lengthAdjust="spacingAndGlyphs">cloud</tspan></text>
<text y="536.4" font-size="27.7" fill="#262626"><tspan x="789.03" textLength="36.81" lengthAdjust="spacingAndGlyphs">LW</tspan><tspan x="826.23" dy="13.25" font-size="22.3" textLength="46.75" lengthAdjust="spacingAndGlyphs">clear</tspan></text>
<text y="536.4" font-size="27.7" fill="#262626"><tspan x="916.76" textLength="36.28" lengthAdjust="spacingAndGlyphs">LW</tspan><tspan x="953.69" dy="13.25" font-size="22.3" textLength="53.68" lengthAdjust="spacingAndGlyphs">cloud</tspan></text>
<text y="26.9" font-size="30.4" font-weight="bold" fill="#000"><tspan x="365" textLength="230.51" lengthAdjust="spacingAndGlyphs">Trend 2001-2019</tspan> <tspan x="603.34" textLength="170.45" lengthAdjust="spacingAndGlyphs">(30°N-90°N)</tspan></text>
<text x="2.28" y="23.1" font-size="27.6" font-weight="bold" fill="#000" textLength="16.15" lengthAdjust="spacingAndGlyphs">b</text>
<text transform="translate(44.9,0) rotate(-90)" y="0" fill="#262626"><tspan x="-380.15" font-size="30" textLength="29.11" lengthAdjust="spacingAndGlyphs">EE</tspan><tspan x="-350.82" font-size="31.4" font-family="'Liberation Mono', monospace" textLength="11.55" lengthAdjust="spacingAndGlyphs">I</tspan> <tspan x="-333" font-size="30" textLength="35.19" lengthAdjust="spacingAndGlyphs">(W</tspan> <tspan x="-289.21" font-size="30" textLength="24.52" lengthAdjust="spacingAndGlyphs">m</tspan><tspan x="-263.02" dy="-14.6" font-size="24.3" textLength="20.13" lengthAdjust="spacingAndGlyphs">-2</tspan> <tspan x="-234.45" dy="14.6" font-size="30" textLength="46.54" lengthAdjust="spacingAndGlyphs">dec</tspan><tspan x="-187.27" dy="-14.6" font-size="24.3" textLength="19.13" lengthAdjust="spacingAndGlyphs">-1</tspan><tspan x="-166.59" dy="14.6" font-size="30" textLength="9.74" lengthAdjust="spacingAndGlyphs">)</tspan></text>
</g>
<g id="panel-c" transform="translate(0,0)">
<rect x="142.53" y="608.3" width="26.02" height="466.7" fill="#FDFCE6"/>
<rect x="194.57" y="608.3" width="26.02" height="466.7" fill="#FDFCE6"/>
<rect x="272.61" y="608.3" width="26.02" height="466.7" fill="#FDFCE6"/>
<rect x="324.65" y="608.3" width="26.02" height="466.7" fill="#FDFCE6"/>
<rect x="402.69" y="608.3" width="26.02" height="466.7" fill="#FDFCE6"/>
<rect x="454.73" y="608.3" width="26.02" height="466.7" fill="#FDFCE6"/>
<rect x="532.77" y="608.3" width="26.02" height="466.7" fill="#FDFCE6"/>
<rect x="584.81" y="608.3" width="26.02" height="466.7" fill="#FDFCE6"/>
<rect x="662.85" y="608.3" width="26.02" height="466.7" fill="#FDFCE6"/>
<rect x="714.89" y="608.3" width="26.02" height="466.7" fill="#FDFCE6"/>
<rect x="792.93" y="608.3" width="26.02" height="466.7" fill="#FDFCE6"/>
<rect x="844.97" y="608.3" width="26.02" height="466.7" fill="#FDFCE6"/>
<rect x="923.01" y="608.3" width="26.02" height="466.7" fill="#FDFCE6"/>
<rect x="975.05" y="608.3" width="26.02" height="466.7" fill="#FDFCE6"/>
<rect x="117.12" y="825.14" width="128.33" height="51.8" fill="#DBDBDB"/>
<rect x="117.12" y="847.69" width="128.33" height="6.7" fill="#EEEEEE"/>
<rect x="248.65" y="811.61" width="126.88" height="51.8" fill="#DBDBDB"/>
<rect x="248.65" y="834.16" width="126.88" height="6.7" fill="#EEEEEE"/>
<rect x="378.73" y="907.29" width="125.73" height="51.8" fill="#DBDBDB"/>
<rect x="378.73" y="929.84" width="125.73" height="6.7" fill="#EEEEEE"/>
<rect x="509.96" y="884.62" width="125.73" height="51.8" fill="#DBDBDB"/>
<rect x="509.96" y="907.17" width="125.73" height="6.7" fill="#EEEEEE"/>
<rect x="638.89" y="820.89" width="125.73" height="51.8" fill="#DBDBDB"/>
<rect x="638.89" y="843.44" width="125.73" height="6.7" fill="#EEEEEE"/>
<rect x="770.12" y="824.02" width="125.73" height="51.8" fill="#DBDBDB"/>
<rect x="770.12" y="846.57" width="125.73" height="6.7" fill="#EEEEEE"/>
<rect x="899.05" y="976.84" width="127.85" height="51.8" fill="#DBDBDB"/>
<rect x="899.05" y="999.39" width="127.85" height="6.7" fill="#EEEEEE"/>
<rect x="111.15" y="919.05" width="915.75" height="1" fill="#333"/>
<rect x="117.02" y="848.59" width="129.58" height="4.9" fill="#000"/>
<rect x="246.6" y="835.06" width="130.08" height="4.9" fill="#000"/>
<rect x="376.68" y="930.74" width="130.08" height="4.9" fill="#000"/>
<rect x="506.76" y="908.07" width="130.08" height="4.9" fill="#000"/>
<rect x="636.84" y="844.34" width="130.08" height="4.9" fill="#000"/>
<rect x="766.92" y="847.47" width="130.08" height="4.9" fill="#000"/>
<rect x="897" y="1000.29" width="129.9" height="4.9" fill="#000"/>
<rect x="117.02" y="863.93" width="103.56" height="4.6" fill="#808080"/>
<rect x="246.6" y="869.79" width="104.06" height="4.6" fill="#808080"/>
<rect x="376.68" y="911.4" width="104.06" height="4.6" fill="#808080"/>
<rect x="506.76" y="928.79" width="104.06" height="4.6" fill="#808080"/>
<rect x="636.84" y="858.26" width="104.06" height="4.6" fill="#808080"/>
<rect x="766.92" y="888.35" width="104.06" height="4.6" fill="#808080"/>
<rect x="897" y="940.32" width="104.06" height="4.6" fill="#808080"/>
<rect x="245.8" y="608.1" width="1.5" height="466.8" fill="#1c1c1c"/>
<rect x="375.88" y="608.1" width="1.5" height="466.8" fill="#1c1c1c"/>
<rect x="505.06" y="608.1" width="3.4" height="513.6" fill="#000"/>
<rect x="636.04" y="608.1" width="1.5" height="466.8" fill="#1c1c1c"/>
<rect x="765.22" y="608.1" width="3.4" height="513.6" fill="#000"/>
<rect x="896.2" y="608.1" width="1.5" height="466.8" fill="#1c1c1c"/>
<rect x="110.55" y="607.6" width="1.2" height="467.8" fill="#2e2e2e"/>
<rect x="111.15" y="607.6" width="9.3" height="1" fill="#333"/>
<rect x="111.15" y="685.65" width="5.6" height="1" fill="#333"/>
<rect x="111.15" y="763.45" width="5.6" height="1" fill="#333"/>
<rect x="111.15" y="841.25" width="5.6" height="1" fill="#333"/>
<rect x="111.15" y="919.05" width="5.6" height="1" fill="#333"/>
<rect x="111.15" y="996.85" width="5.6" height="1" fill="#333"/>
<rect x="111.15" y="1074.4" width="5.6" height="1" fill="#333"/>
<rect x="128.08" y="787.11" width="3.3" height="106.08" fill="#D95319"/>
<rect x="121.93" y="810.94" width="15.6" height="59.39" fill="#D95319"/>
<rect x="147.92" y="876.58" width="15.6" height="8.79" fill="#77AC30"/>
<rect x="180.07" y="837.9" width="3.3" height="59" fill="#0072BD"/>
<rect x="173.92" y="855.09" width="15.6" height="33.6" fill="#0072BD"/>
<rect x="199.91" y="853.53" width="15.6" height="22.86" fill="#EDB120"/>
<rect x="232.06" y="846.89" width="3.3" height="72.67" fill="#7E2F8E"/>
<rect x="225.91" y="859.2" width="15.6" height="39.66" fill="#7E2F8E"/>
<rect x="258.06" y="806.26" width="3.3" height="85.17" fill="#D95319"/>
<rect x="251.91" y="835.95" width="15.6" height="41.02" fill="#D95319"/>
<rect x="284.05" y="907.45" width="3.3" height="37.12" fill="#77AC30"/>
<rect x="277.9" y="908.42" width="15.6" height="30.87" fill="#77AC30"/>
<rect x="310.05" y="834" width="3.3" height="58.21" fill="#0072BD"/>
<rect x="303.9" y="841.61" width="15.6" height="39.46" fill="#0072BD"/>
<rect x="329.89" y="843.18" width="15.6" height="10.94" fill="#EDB120"/>
<rect x="362.04" y="862.52" width="3.3" height="54.5" fill="#7E2F8E"/>
<rect x="355.89" y="864.86" width="15.6" height="41.22" fill="#7E2F8E"/>
<rect x="388.04" y="889.87" width="3.3" height="48.45" fill="#D95319"/>
<rect x="381.89" y="892.99" width="15.6" height="27.74" fill="#D95319"/>
<rect x="414.03" y="860.95" width="3.3" height="28.72" fill="#77AC30"/>
<rect x="407.88" y="865.84" width="15.6" height="23.83" fill="#77AC30"/>
<rect x="440.03" y="921.12" width="3.3" height="23.25" fill="#0072BD"/>
<rect x="433.88" y="922.88" width="15.6" height="15.82" fill="#0072BD"/>
<rect x="459.87" y="930.3" width="15.6" height="12.31" fill="#EDB120"/>
<rect x="492.02" y="876.97" width="3.3" height="66.03" fill="#7E2F8E"/>
<rect x="485.87" y="905.1" width="15.6" height="26.18" fill="#7E2F8E"/>
<rect x="518.02" y="927.37" width="3.3" height="28.33" fill="#D95319"/>
<rect x="511.87" y="929.72" width="15.6" height="19.73" fill="#D95319"/>
<rect x="537.86" y="915.26" width="15.6" height="9.18" fill="#77AC30"/>
<rect x="570.01" y="926.4" width="3.3" height="22.47" fill="#0072BD"/>
<rect x="563.86" y="928.15" width="15.6" height="20.51" fill="#0072BD"/>
<rect x="589.85" y="926.4" width="15.6" height="9.77" fill="#EDB120"/>
<rect x="622" y="927.37" width="3.3" height="17.19" fill="#7E2F8E"/>
<rect x="615.85" y="929.72" width="15.6" height="12.89" fill="#7E2F8E"/>
<rect x="648" y="796.49" width="3.3" height="61.93" fill="#D95319"/>
<rect x="641.85" y="821.88" width="15.6" height="30.08" fill="#D95319"/>
<rect x="673.99" y="901.98" width="3.3" height="43.95" fill="#77AC30"/>
<rect x="667.84" y="904.13" width="15.6" height="36.53" fill="#77AC30"/>
<rect x="699.99" y="827.35" width="3.3" height="34.58" fill="#0072BD"/>
<rect x="693.84" y="832.82" width="15.6" height="29.11" fill="#0072BD"/>
<rect x="719.83" y="835.56" width="15.6" height="12.11" fill="#EDB120"/>
<rect x="751.98" y="845.33" width="3.3" height="55.09" fill="#7E2F8E"/>
<rect x="745.83" y="851.38" width="15.6" height="36.92" fill="#7E2F8E"/>
<rect x="777.98" y="866.81" width="3.3" height="26.76" fill="#D95319"/>
<rect x="771.83" y="871.31" width="15.6" height="18.95" fill="#D95319"/>
<rect x="797.82" y="891.82" width="15.6" height="9.77" fill="#77AC30"/>
<rect x="823.82" y="889.28" width="15.6" height="6.45" fill="#0072BD"/>
<rect x="849.81" y="892.21" width="15.6" height="7.81" fill="#EDB120"/>
<rect x="881.96" y="876.19" width="3.3" height="35.94" fill="#7E2F8E"/>
<rect x="875.81" y="889.08" width="15.6" height="16.6" fill="#7E2F8E"/>
<rect x="907.96" y="938.35" width="3.3" height="26" fill="#D95319"/>
<rect x="901.81" y="939.98" width="15.6" height="13.44" fill="#D95319"/>
<rect x="933.95" y="889" width="3.3" height="27.38" fill="#77AC30"/>
<rect x="927.8" y="891.88" width="15.6" height="24.11" fill="#77AC30"/>
<rect x="959.95" y="948.77" width="3.3" height="21.98" fill="#0072BD"/>
<rect x="953.8" y="951.16" width="15.6" height="13.56" fill="#0072BD"/>
<rect x="979.79" y="957.19" width="15.6" height="8.54" fill="#EDB120"/>
<rect x="1011.94" y="918.88" width="3.3" height="35.41" fill="#7E2F8E"/>
<rect x="1005.79" y="930.19" width="15.6" height="19.59" fill="#7E2F8E"/>
<circle cx="129.73" cy="843.76" r="6.85" fill="#fff" stroke="#000" stroke-width="1.5"/>
<circle cx="155.72" cy="881.86" r="6.85" fill="#fff" stroke="#000" stroke-width="1.5"/>
<circle cx="181.72" cy="872.28" r="6.85" fill="#fff" stroke="#000" stroke-width="1.5"/>
<circle cx="207.71" cy="866.81" r="6.85" fill="#fff" stroke="#000" stroke-width="1.5"/>
<circle cx="233.71" cy="880.49" r="6.85" fill="#fff" stroke="#000" stroke-width="1.5"/>
<circle cx="259.71" cy="856.27" r="6.85" fill="#fff" stroke="#000" stroke-width="1.5"/>
<circle cx="285.7" cy="919.95" r="6.85" fill="#fff" stroke="#000" stroke-width="1.5"/>
<circle cx="311.7" cy="862.71" r="6.85" fill="#fff" stroke="#000" stroke-width="1.5"/>
<circle cx="337.69" cy="850.01" r="6.85" fill="#fff" stroke="#000" stroke-width="1.5"/>
<circle cx="363.69" cy="883.81" r="6.85" fill="#fff" stroke="#000" stroke-width="1.5"/>
<circle cx="389.69" cy="907.06" r="6.85" fill="#fff" stroke="#000" stroke-width="1.5"/>
<circle cx="415.68" cy="882.05" r="6.85" fill="#fff" stroke="#000" stroke-width="1.5"/>
<circle cx="441.68" cy="929.72" r="6.85" fill="#fff" stroke="#000" stroke-width="1.5"/>
<circle cx="467.67" cy="936.75" r="6.85" fill="#fff" stroke="#000" stroke-width="1.5"/>
<circle cx="493.67" cy="915.65" r="6.85" fill="#fff" stroke="#000" stroke-width="1.5"/>
<circle cx="519.67" cy="940.07" r="6.85" fill="#fff" stroke="#000" stroke-width="1.5"/>
<circle cx="545.66" cy="919.36" r="6.85" fill="#fff" stroke="#000" stroke-width="1.5"/>
<circle cx="571.66" cy="935.97" r="6.85" fill="#fff" stroke="#000" stroke-width="1.5"/>
<circle cx="597.65" cy="930.11" r="6.85" fill="#fff" stroke="#000" stroke-width="1.5"/>
<circle cx="623.65" cy="935.38" r="6.85" fill="#fff" stroke="#000" stroke-width="1.5"/>
<circle cx="649.65" cy="835.95" r="6.85" fill="#fff" stroke="#000" stroke-width="1.5"/>
<circle cx="675.64" cy="920.54" r="6.85" fill="#fff" stroke="#000" stroke-width="1.5"/>
<circle cx="701.64" cy="846.69" r="6.85" fill="#fff" stroke="#000" stroke-width="1.5"/>
<circle cx="727.63" cy="839.86" r="6.85" fill="#fff" stroke="#000" stroke-width="1.5"/>
<circle cx="753.63" cy="868.96" r="6.85" fill="#fff" stroke="#000" stroke-width="1.5"/>
<circle cx="779.63" cy="878.73" r="6.85" fill="#fff" stroke="#000" stroke-width="1.5"/>
<circle cx="805.62" cy="895.92" r="6.85" fill="#fff" stroke="#000" stroke-width="1.5"/>
<circle cx="831.62" cy="892.41" r="6.85" fill="#fff" stroke="#000" stroke-width="1.5"/>
<circle cx="857.61" cy="896.31" r="6.85" fill="#fff" stroke="#000" stroke-width="1.5"/>
<circle cx="883.61" cy="895.92" r="6.85" fill="#fff" stroke="#000" stroke-width="1.5"/>
<circle cx="909.61" cy="947.52" r="6.85" fill="#fff" stroke="#000" stroke-width="1.5"/>
<circle cx="935.6" cy="906.33" r="6.85" fill="#fff" stroke="#000" stroke-width="1.5"/>
<circle cx="961.6" cy="957.31" r="6.85" fill="#fff" stroke="#000" stroke-width="1.5"/>
<circle cx="987.59" cy="960.58" r="6.85" fill="#fff" stroke="#000" stroke-width="1.5"/>
<circle cx="1013.59" cy="940.23" r="6.85" fill="#fff" stroke="#000" stroke-width="1.5"/>
<g class="models">
<text x="122.73" y="626.5" font-size="24.5" fill="#111" textLength="13.99" lengthAdjust="spacingAndGlyphs">C</text>
<text x="150.95" y="626.5" font-size="25.6" font-family="'Liberation Mono', monospace" fill="#111" textLength="9.9" lengthAdjust="spacingAndGlyphs">I</text>
<text x="173.31" y="626.5" font-size="24.5" fill="#111" textLength="17.02" lengthAdjust="spacingAndGlyphs">N</text>
<text x="200.04" y="626.5" font-size="24.5" fill="#111" textLength="15.86" lengthAdjust="spacingAndGlyphs">H</text>
<text x="225.65" y="626.5" font-size="24.5" fill="#111" textLength="16.39" lengthAdjust="spacingAndGlyphs">G</text>
<text x="252.81" y="626.5" font-size="24.5" fill="#111" textLength="13.99" lengthAdjust="spacingAndGlyphs">C</text>
<text x="281.03" y="626.5" font-size="25.6" font-family="'Liberation Mono', monospace" fill="#111" textLength="9.9" lengthAdjust="spacingAndGlyphs">I</text>
<text x="303.39" y="626.5" font-size="24.5" fill="#111" textLength="17.02" lengthAdjust="spacingAndGlyphs">N</text>
<text x="330.12" y="626.5" font-size="24.5" fill="#111" textLength="15.86" lengthAdjust="spacingAndGlyphs">H</text>
<text x="355.73" y="626.5" font-size="24.5" fill="#111" textLength="16.39" lengthAdjust="spacingAndGlyphs">G</text>
<text x="382.89" y="626.5" font-size="24.5" fill="#111" textLength="13.99" lengthAdjust="spacingAndGlyphs">C</text>
<text x="411.11" y="626.5" font-size="25.6" font-family="'Liberation Mono', monospace" fill="#111" textLength="9.9" lengthAdjust="spacingAndGlyphs">I</text>
<text x="433.47" y="626.5" font-size="24.5" fill="#111" textLength="17.02" lengthAdjust="spacingAndGlyphs">N</text>
<text x="460.2" y="626.5" font-size="24.5" fill="#111" textLength="15.86" lengthAdjust="spacingAndGlyphs">H</text>
<text x="485.81" y="626.5" font-size="24.5" fill="#111" textLength="16.39" lengthAdjust="spacingAndGlyphs">G</text>
<text x="512.97" y="626.5" font-size="24.5" fill="#111" textLength="13.99" lengthAdjust="spacingAndGlyphs">C</text>
<text x="541.19" y="626.5" font-size="25.6" font-family="'Liberation Mono', monospace" fill="#111" textLength="9.9" lengthAdjust="spacingAndGlyphs">I</text>
<text x="563.55" y="626.5" font-size="24.5" fill="#111" textLength="17.02" lengthAdjust="spacingAndGlyphs">N</text>
<text x="590.28" y="626.5" font-size="24.5" fill="#111" textLength="15.86" lengthAdjust="spacingAndGlyphs">H</text>
<text x="615.89" y="626.5" font-size="24.5" fill="#111" textLength="16.39" lengthAdjust="spacingAndGlyphs">G</text>
<text x="643.05" y="626.5" font-size="24.5" fill="#111" textLength="13.99" lengthAdjust="spacingAndGlyphs">C</text>
<text x="671.27" y="626.5" font-size="25.6" font-family="'Liberation Mono', monospace" fill="#111" textLength="9.9" lengthAdjust="spacingAndGlyphs">I</text>
<text x="693.63" y="626.5" font-size="24.5" fill="#111" textLength="17.02" lengthAdjust="spacingAndGlyphs">N</text>
<text x="720.36" y="626.5" font-size="24.5" fill="#111" textLength="15.86" lengthAdjust="spacingAndGlyphs">H</text>
<text x="745.97" y="626.5" font-size="24.5" fill="#111" textLength="16.39" lengthAdjust="spacingAndGlyphs">G</text>
<text x="773.13" y="626.5" font-size="24.5" fill="#111" textLength="13.99" lengthAdjust="spacingAndGlyphs">C</text>
<text x="801.35" y="626.5" font-size="25.6" font-family="'Liberation Mono', monospace" fill="#111" textLength="9.9" lengthAdjust="spacingAndGlyphs">I</text>
<text x="823.71" y="626.5" font-size="24.5" fill="#111" textLength="17.02" lengthAdjust="spacingAndGlyphs">N</text>
<text x="850.44" y="626.5" font-size="24.5" fill="#111" textLength="15.86" lengthAdjust="spacingAndGlyphs">H</text>
<text x="876.05" y="626.5" font-size="24.5" fill="#111" textLength="16.39" lengthAdjust="spacingAndGlyphs">G</text>
<text x="903.21" y="626.5" font-size="24.5" fill="#111" textLength="13.99" lengthAdjust="spacingAndGlyphs">C</text>
<text x="931.43" y="626.5" font-size="25.6" font-family="'Liberation Mono', monospace" fill="#111" textLength="9.9" lengthAdjust="spacingAndGlyphs">I</text>
<text x="953.79" y="626.5" font-size="24.5" fill="#111" textLength="17.02" lengthAdjust="spacingAndGlyphs">N</text>
<text x="980.52" y="626.5" font-size="24.5" fill="#111" textLength="15.86" lengthAdjust="spacingAndGlyphs">H</text>
<text x="1006.13" y="626.5" font-size="24.5" fill="#111" textLength="16.39" lengthAdjust="spacingAndGlyphs">G</text>
</g>
<text x="87.33" y="617.95" font-size="27.5" fill="#262626" textLength="15.28" lengthAdjust="spacingAndGlyphs">2</text>
<text x="66.09" y="695.75" font-size="27.5" fill="#262626" textLength="36.36" lengthAdjust="spacingAndGlyphs">1.5</text>
<text x="86.61" y="773.55" font-size="27.5" fill="#262626" textLength="14.75" lengthAdjust="spacingAndGlyphs">1</text>
<text x="65.85" y="851.35" font-size="27.5" fill="#262626" textLength="36.5" lengthAdjust="spacingAndGlyphs">0.5</text>
<text x="87.72" y="929.15" font-size="27.5" fill="#262626" textLength="14.99" lengthAdjust="spacingAndGlyphs">0</text>
<text x="56.71" y="1006.95" font-size="27.5" fill="#262626" textLength="45.74" lengthAdjust="spacingAndGlyphs">-0.5</text>
<text x="78.66" y="1084.75" font-size="27.5" fill="#262626" textLength="22.59" lengthAdjust="spacingAndGlyphs">-1</text>
<text x="153.79" y="1108.9" font-size="27.7" fill="#262626" textLength="43.09" lengthAdjust="spacingAndGlyphs">Net</text>
<text x="292.94" y="1108.9" font-size="27.7" fill="#262626" textLength="37.79" lengthAdjust="spacingAndGlyphs">SW</text>
<text x="423.23" y="1108.9" font-size="27.7" fill="#262626" textLength="36.81" lengthAdjust="spacingAndGlyphs">LW</text>
<text y="1108.9" font-size="27.7" fill="#262626"><tspan x="528.75" textLength="37.69" lengthAdjust="spacingAndGlyphs">SW</tspan><tspan x="566.84" dy="13.25" font-size="22.3" textLength="46.44" lengthAdjust="spacingAndGlyphs">clear</tspan></text>
<text y="1108.9" font-size="27.7" fill="#262626"><tspan x="656.25" textLength="37.48" lengthAdjust="spacingAndGlyphs">SW</tspan><tspan x="693.89" dy="13.25" font-size="22.3" textLength="53.68" lengthAdjust="spacingAndGlyphs">cloud</tspan></text>
<text y="1108.9" font-size="27.7" fill="#262626"><tspan x="789.03" textLength="36.81" lengthAdjust="spacingAndGlyphs">LW</tspan><tspan x="826.23" dy="13.25" font-size="22.3" textLength="46.75" lengthAdjust="spacingAndGlyphs">clear</tspan></text>
<text y="1108.9" font-size="27.7" fill="#262626"><tspan x="916.76" textLength="36.28" lengthAdjust="spacingAndGlyphs">LW</tspan><tspan x="953.69" dy="13.25" font-size="22.3" textLength="53.68" lengthAdjust="spacingAndGlyphs">cloud</tspan></text>
<text y="599.4" font-size="30.4" font-weight="bold" fill="#000"><tspan x="368.8" textLength="230.41" lengthAdjust="spacingAndGlyphs">Trend 2001-2019</tspan> <tspan x="606.59" textLength="163.45" lengthAdjust="spacingAndGlyphs">(30°S-30°N)</tspan></text>
<text x="2.14" y="595.6" font-size="27.6" font-weight="bold" fill="#000" textLength="13.42" lengthAdjust="spacingAndGlyphs">c</text>
<text transform="translate(44.9,0) rotate(-90)" y="0" fill="#262626"><tspan x="-952.65" font-size="30" textLength="29.11" lengthAdjust="spacingAndGlyphs">EE</tspan><tspan x="-923.32" font-size="31.4" font-family="'Liberation Mono', monospace" textLength="11.55" lengthAdjust="spacingAndGlyphs">I</tspan> <tspan x="-905.5" font-size="30" textLength="35.19" lengthAdjust="spacingAndGlyphs">(W</tspan> <tspan x="-861.71" font-size="30" textLength="24.52" lengthAdjust="spacingAndGlyphs">m</tspan><tspan x="-835.52" dy="-14.6" font-size="24.3" textLength="20.13" lengthAdjust="spacingAndGlyphs">-2</tspan> <tspan x="-806.95" dy="14.6" font-size="30" textLength="46.54" lengthAdjust="spacingAndGlyphs">dec</tspan><tspan x="-759.77" dy="-14.6" font-size="24.3" textLength="19.13" lengthAdjust="spacingAndGlyphs">-1</tspan><tspan x="-739.09" dy="14.6" font-size="30" textLength="9.74" lengthAdjust="spacingAndGlyphs">)</tspan></text>
</g>
<g id="panel-d" transform="translate(1120,0)">
<rect x="142.53" y="608.3" width="26.02" height="466.7" fill="#FDFCE6"/>
<rect x="194.57" y="608.3" width="26.02" height="466.7" fill="#FDFCE6"/>
<rect x="272.61" y="608.3" width="26.02" height="466.7" fill="#FDFCE6"/>
<rect x="324.65" y="608.3" width="26.02" height="466.7" fill="#FDFCE6"/>
<rect x="402.69" y="608.3" width="26.02" height="466.7" fill="#FDFCE6"/>
<rect x="454.73" y="608.3" width="26.02" height="466.7" fill="#FDFCE6"/>
<rect x="532.77" y="608.3" width="26.02" height="466.7" fill="#FDFCE6"/>
<rect x="584.81" y="608.3" width="26.02" height="466.7" fill="#FDFCE6"/>
<rect x="662.85" y="608.3" width="26.02" height="466.7" fill="#FDFCE6"/>
<rect x="714.89" y="608.3" width="26.02" height="466.7" fill="#FDFCE6"/>
<rect x="792.93" y="608.3" width="26.02" height="466.7" fill="#FDFCE6"/>
<rect x="844.97" y="608.3" width="26.02" height="466.7" fill="#FDFCE6"/>
<rect x="923.01" y="608.3" width="26.02" height="466.7" fill="#FDFCE6"/>
<rect x="975.05" y="608.3" width="26.02" height="466.7" fill="#FDFCE6"/>
<rect x="117.12" y="805.04" width="128.33" height="51.8" fill="#DBDBDB"/>
<rect x="117.12" y="827.59" width="128.33" height="6.7" fill="#EEEEEE"/>
<rect x="248.65" y="783.84" width="126.88" height="51.8" fill="#DBDBDB"/>
<rect x="248.65" y="806.39" width="126.88" height="6.7" fill="#EEEEEE"/>
<rect x="378.73" y="915.22" width="125.73" height="51.8" fill="#DBDBDB"/>
<rect x="378.73" y="937.77" width="125.73" height="6.7" fill="#EEEEEE"/>
<rect x="509.96" y="843.4" width="125.73" height="51.8" fill="#DBDBDB"/>
<rect x="509.96" y="865.95" width="125.73" height="6.7" fill="#EEEEEE"/>
<rect x="638.89" y="833.83" width="125.73" height="51.8" fill="#DBDBDB"/>
<rect x="638.89" y="856.38" width="125.73" height="6.7" fill="#EEEEEE"/>
<rect x="770.12" y="855.41" width="125.73" height="51.8" fill="#DBDBDB"/>
<rect x="870.98" y="877.96" width="24.87" height="6.7" fill="#EEEEEE"/>
<rect x="899.05" y="953.26" width="127.85" height="51.8" fill="#DBDBDB"/>
<rect x="899.05" y="975.81" width="127.85" height="6.7" fill="#EEEEEE"/>
<rect x="111.15" y="919.05" width="915.75" height="1" fill="#333"/>
<rect x="117.02" y="828.49" width="129.58" height="4.9" fill="#000"/>
<rect x="246.6" y="807.29" width="130.08" height="4.9" fill="#000"/>
<rect x="376.68" y="938.67" width="130.08" height="4.9" fill="#000"/>
<rect x="506.76" y="866.85" width="130.08" height="4.9" fill="#000"/>
<rect x="636.84" y="857.28" width="130.08" height="4.9" fill="#000"/>
<rect x="766.92" y="878.86" width="130.08" height="4.9" fill="#000"/>
<rect x="897" y="976.71" width="129.9" height="4.9" fill="#000"/>
<rect x="117.02" y="905.65" width="103.56" height="4.6" fill="#808080"/>
<rect x="246.6" y="916.01" width="104.06" height="4.6" fill="#808080"/>
<rect x="376.68" y="906.44" width="104.06" height="4.6" fill="#808080"/>
<rect x="506.76" y="948.32" width="104.06" height="4.6" fill="#808080"/>
<rect x="636.84" y="885.41" width="104.06" height="4.6" fill="#808080"/>
<rect x="766.92" y="878.97" width="104.06" height="4.6" fill="#808080"/>
<rect x="897" y="944.46" width="104.06" height="4.6" fill="#808080"/>
<rect x="245.8" y="608.1" width="1.5" height="466.8" fill="#1c1c1c"/>
<rect x="375.88" y="608.1" width="1.5" height="466.8" fill="#1c1c1c"/>
<rect x="505.06" y="608.1" width="3.4" height="513.6" fill="#000"/>
<rect x="636.04" y="608.1" width="1.5" height="466.8" fill="#1c1c1c"/>
<rect x="765.22" y="608.1" width="3.4" height="513.6" fill="#000"/>
<rect x="896.2" y="608.1" width="1.5" height="466.8" fill="#1c1c1c"/>
<rect x="110.55" y="607.6" width="1.2" height="467.8" fill="#2e2e2e"/>
<rect x="111.15" y="607.6" width="9.3" height="1" fill="#333"/>
<rect x="111.15" y="685.65" width="5.6" height="1" fill="#333"/>
<rect x="111.15" y="763.45" width="5.6" height="1" fill="#333"/>
<rect x="111.15" y="841.25" width="5.6" height="1" fill="#333"/>
<rect x="111.15" y="919.05" width="5.6" height="1" fill="#333"/>
<rect x="111.15" y="996.85" width="5.6" height="1" fill="#333"/>
<rect x="111.15" y="1074.4" width="5.6" height="1" fill="#333"/>
<rect x="128.08" y="843.88" width="3.3" height="89.28" fill="#D95319"/>
<rect x="121.93" y="854.43" width="15.6" height="60.36" fill="#D95319"/>
<rect x="154.07" y="881.97" width="3.3" height="54.89" fill="#77AC30"/>
<rect x="147.92" y="887.83" width="15.6" height="47.86" fill="#77AC30"/>
<rect x="180.07" y="860.68" width="3.3" height="125.02" fill="#0072BD"/>
<rect x="173.92" y="875.33" width="15.6" height="97.09" fill="#0072BD"/>
<rect x="199.91" y="859.7" width="15.6" height="72.48" fill="#EDB120"/>
<rect x="232.06" y="881.97" width="3.3" height="73.45" fill="#7E2F8E"/>
<rect x="225.91" y="886.27" width="15.6" height="36.34" fill="#7E2F8E"/>
<rect x="258.06" y="842.9" width="3.3" height="110.37" fill="#D95319"/>
<rect x="251.91" y="877.28" width="15.6" height="61.34" fill="#D95319"/>
<rect x="284.05" y="899.75" width="3.3" height="29.3" fill="#77AC30"/>
<rect x="277.9" y="900.34" width="15.6" height="28.13" fill="#77AC30"/>
<rect x="310.05" y="896.62" width="3.3" height="118.19" fill="#0072BD"/>
<rect x="303.9" y="898.97" width="15.6" height="96.89" fill="#0072BD"/>
<rect x="329.89" y="880.02" width="15.6" height="48.84" fill="#EDB120"/>
<rect x="362.04" y="910.88" width="3.3" height="60.17" fill="#7E2F8E"/>
<rect x="355.89" y="922.02" width="15.6" height="31.84" fill="#7E2F8E"/>
<rect x="388.04" y="870.84" width="3.3" height="60.17" fill="#D95319"/>
<rect x="381.89" y="887.25" width="15.6" height="33.8" fill="#D95319"/>
<rect x="414.03" y="899.16" width="3.3" height="34.58" fill="#77AC30"/>
<rect x="407.88" y="903.07" width="15.6" height="29.11" fill="#77AC30"/>
<rect x="440.03" y="884.12" width="3.3" height="42.78" fill="#0072BD"/>
<rect x="433.88" y="885.68" width="15.6" height="30.28" fill="#0072BD"/>
<rect x="459.87" y="899.36" width="15.6" height="23.64" fill="#EDB120"/>
<rect x="492.02" y="871.03" width="3.3" height="35.55" fill="#7E2F8E"/>
<rect x="485.87" y="875.72" width="15.6" height="29.3" fill="#7E2F8E"/>
<rect x="518.02" y="951.98" width="3.3" height="21.49" fill="#D95319"/>
<rect x="511.87" y="956.28" width="15.6" height="8.79" fill="#D95319"/>
<rect x="537.86" y="937.72" width="15.6" height="12.7" fill="#77AC30"/>
<rect x="570.01" y="933.82" width="3.3" height="27.74" fill="#0072BD"/>
<rect x="563.86" y="940.65" width="15.6" height="16.02" fill="#0072BD"/>
<rect x="589.85" y="944.95" width="15.6" height="7.42" fill="#EDB120"/>
<rect x="622" y="930.3" width="3.3" height="27.94" fill="#7E2F8E"/>
<rect x="615.85" y="936.16" width="15.6" height="10.35" fill="#7E2F8E"/>
<rect x="648" y="791.99" width="3.3" height="125.22" fill="#D95319"/>
<rect x="641.85" y="832.23" width="15.6" height="66.03" fill="#D95319"/>
<rect x="673.99" y="874.23" width="3.3" height="27.35" fill="#77AC30"/>
<rect x="667.84" y="876.19" width="15.6" height="24.42" fill="#77AC30"/>
<rect x="699.99" y="869.35" width="3.3" height="115.06" fill="#0072BD"/>
<rect x="693.84" y="871.3" width="15.6" height="92.79" fill="#0072BD"/>
<rect x="719.83" y="854.7" width="15.6" height="41.41" fill="#EDB120"/>
<rect x="751.98" y="884.98" width="3.3" height="66.81" fill="#7E2F8E"/>
<rect x="745.83" y="897.68" width="15.6" height="35.16" fill="#7E2F8E"/>
<rect x="777.98" y="847.47" width="3.3" height="38.87" fill="#D95319"/>
<rect x="771.83" y="863.68" width="15.6" height="20.32" fill="#D95319"/>
<rect x="803.97" y="883.02" width="3.3" height="30.28" fill="#77AC30"/>
<rect x="797.82" y="885.37" width="15.6" height="25.59" fill="#77AC30"/>
<rect x="829.97" y="856.26" width="3.3" height="30.67" fill="#0072BD"/>
<rect x="823.82" y="858.61" width="15.6" height="25.4" fill="#0072BD"/>
<rect x="849.81" y="879.12" width="15.6" height="11.72" fill="#EDB120"/>
<rect x="881.96" y="865.44" width="3.3" height="29.69" fill="#7E2F8E"/>
<rect x="875.81" y="869.15" width="15.6" height="16.8" fill="#7E2F8E"/>
<rect x="907.96" y="937.97" width="3.3" height="28.26" fill="#D95319"/>
<rect x="901.81" y="942.24" width="15.6" height="17.58" fill="#D95319"/>
<rect x="927.8" y="936.72" width="15.6" height="10.42" fill="#77AC30"/>
<rect x="959.95" y="927.3" width="3.3" height="31.77" fill="#0072BD"/>
<rect x="953.8" y="936.46" width="15.6" height="19.47" fill="#0072BD"/>
<rect x="979.79" y="939.98" width="15.6" height="13.81" fill="#EDB120"/>
<rect x="1011.94" y="918.26" width="3.3" height="24.49" fill="#7E2F8E"/>
<rect x="1005.79" y="921.14" width="15.6" height="17.58" fill="#7E2F8E"/>
<circle cx="129.73" cy="888.61" r="6.85" fill="#fff" stroke="#000" stroke-width="1.5"/>
<circle cx="155.72" cy="915.18" r="6.85" fill="#fff" stroke="#000" stroke-width="1.5"/>
<circle cx="181.72" cy="926.71" r="6.85" fill="#fff" stroke="#000" stroke-width="1.5"/>
<circle cx="207.71" cy="900.53" r="6.85" fill="#fff" stroke="#000" stroke-width="1.5"/>
<circle cx="233.71" cy="906.2" r="6.85" fill="#fff" stroke="#000" stroke-width="1.5"/>
<circle cx="259.71" cy="905.61" r="6.85" fill="#fff" stroke="#000" stroke-width="1.5"/>
<circle cx="285.7" cy="914.6" r="6.85" fill="#fff" stroke="#000" stroke-width="1.5"/>
<circle cx="311.7" cy="947.22" r="6.85" fill="#fff" stroke="#000" stroke-width="1.5"/>
<circle cx="337.69" cy="907.37" r="6.85" fill="#fff" stroke="#000" stroke-width="1.5"/>
<circle cx="363.69" cy="937.26" r="6.85" fill="#fff" stroke="#000" stroke-width="1.5"/>
<circle cx="389.69" cy="902.88" r="6.85" fill="#fff" stroke="#000" stroke-width="1.5"/>
<circle cx="415.68" cy="920.26" r="6.85" fill="#fff" stroke="#000" stroke-width="1.5"/>
<circle cx="441.68" cy="898.97" r="6.85" fill="#fff" stroke="#000" stroke-width="1.5"/>
<circle cx="467.67" cy="913.42" r="6.85" fill="#fff" stroke="#000" stroke-width="1.5"/>
<circle cx="493.67" cy="888.61" r="6.85" fill="#fff" stroke="#000" stroke-width="1.5"/>
<circle cx="519.67" cy="960.77" r="6.85" fill="#fff" stroke="#000" stroke-width="1.5"/>
<circle cx="545.66" cy="944.75" r="6.85" fill="#fff" stroke="#000" stroke-width="1.5"/>
<circle cx="571.66" cy="948.86" r="6.85" fill="#fff" stroke="#000" stroke-width="1.5"/>
<circle cx="597.65" cy="948.27" r="6.85" fill="#fff" stroke="#000" stroke-width="1.5"/>
<circle cx="623.65" cy="942.61" r="6.85" fill="#fff" stroke="#000" stroke-width="1.5"/>
<circle cx="649.65" cy="865.05" r="6.85" fill="#fff" stroke="#000" stroke-width="1.5"/>
<circle cx="675.64" cy="889.67" r="6.85" fill="#fff" stroke="#000" stroke-width="1.5"/>
<circle cx="701.64" cy="917.8" r="6.85" fill="#fff" stroke="#000" stroke-width="1.5"/>
<circle cx="727.63" cy="878.73" r="6.85" fill="#fff" stroke="#000" stroke-width="1.5"/>
<circle cx="753.63" cy="914.87" r="6.85" fill="#fff" stroke="#000" stroke-width="1.5"/>
<circle cx="779.63" cy="872.48" r="6.85" fill="#fff" stroke="#000" stroke-width="1.5"/>
<circle cx="805.62" cy="898.26" r="6.85" fill="#fff" stroke="#000" stroke-width="1.5"/>
<circle cx="831.62" cy="871.5" r="6.85" fill="#fff" stroke="#000" stroke-width="1.5"/>
<circle cx="857.61" cy="885.56" r="6.85" fill="#fff" stroke="#000" stroke-width="1.5"/>
<circle cx="883.61" cy="880.09" r="6.85" fill="#fff" stroke="#000" stroke-width="1.5"/>
<circle cx="909.61" cy="950.66" r="6.85" fill="#fff" stroke="#000" stroke-width="1.5"/>
<circle cx="935.6" cy="941.86" r="6.85" fill="#fff" stroke="#000" stroke-width="1.5"/>
<circle cx="961.6" cy="947.77" r="6.85" fill="#fff" stroke="#000" stroke-width="1.5"/>
<circle cx="987.59" cy="947.26" r="6.85" fill="#fff" stroke="#000" stroke-width="1.5"/>
<circle cx="1013.59" cy="928.43" r="6.85" fill="#fff" stroke="#000" stroke-width="1.5"/>
<g class="models">
<text x="122.73" y="626.5" font-size="24.5" fill="#111" textLength="13.99" lengthAdjust="spacingAndGlyphs">C</text>
<text x="150.95" y="626.5" font-size="25.6" font-family="'Liberation Mono', monospace" fill="#111" textLength="9.9" lengthAdjust="spacingAndGlyphs">I</text>
<text x="173.31" y="626.5" font-size="24.5" fill="#111" textLength="17.02" lengthAdjust="spacingAndGlyphs">N</text>
<text x="200.04" y="626.5" font-size="24.5" fill="#111" textLength="15.86" lengthAdjust="spacingAndGlyphs">H</text>
<text x="225.65" y="626.5" font-size="24.5" fill="#111" textLength="16.39" lengthAdjust="spacingAndGlyphs">G</text>
<text x="252.81" y="626.5" font-size="24.5" fill="#111" textLength="13.99" lengthAdjust="spacingAndGlyphs">C</text>
<text x="281.03" y="626.5" font-size="25.6" font-family="'Liberation Mono', monospace" fill="#111" textLength="9.9" lengthAdjust="spacingAndGlyphs">I</text>
<text x="303.39" y="626.5" font-size="24.5" fill="#111" textLength="17.02" lengthAdjust="spacingAndGlyphs">N</text>
<text x="330.12" y="626.5" font-size="24.5" fill="#111" textLength="15.86" lengthAdjust="spacingAndGlyphs">H</text>
<text x="355.73" y="626.5" font-size="24.5" fill="#111" textLength="16.39" lengthAdjust="spacingAndGlyphs">G</text>
<text x="382.89" y="626.5" font-size="24.5" fill="#111" textLength="13.99" lengthAdjust="spacingAndGlyphs">C</text>
<text x="411.11" y="626.5" font-size="25.6" font-family="'Liberation Mono', monospace" fill="#111" textLength="9.9" lengthAdjust="spacingAndGlyphs">I</text>
<text x="433.47" y="626.5" font-size="24.5" fill="#111" textLength="17.02" lengthAdjust="spacingAndGlyphs">N</text>
<text x="460.2" y="626.5" font-size="24.5" fill="#111" textLength="15.86" lengthAdjust="spacingAndGlyphs">H</text>
<text x="485.81" y="626.5" font-size="24.5" fill="#111" textLength="16.39" lengthAdjust="spacingAndGlyphs">G</text>
<text x="512.97" y="626.5" font-size="24.5" fill="#111" textLength="13.99" lengthAdjust="spacingAndGlyphs">C</text>
<text x="541.19" y="626.5" font-size="25.6" font-family="'Liberation Mono', monospace" fill="#111" textLength="9.9" lengthAdjust="spacingAndGlyphs">I</text>
<text x="563.55" y="626.5" font-size="24.5" fill="#111" textLength="17.02" lengthAdjust="spacingAndGlyphs">N</text>
<text x="590.28" y="626.5" font-size="24.5" fill="#111" textLength="15.86" lengthAdjust="spacingAndGlyphs">H</text>
<text x="615.89" y="626.5" font-size="24.5" fill="#111" textLength="16.39" lengthAdjust="spacingAndGlyphs">G</text>
<text x="643.05" y="626.5" font-size="24.5" fill="#111" textLength="13.99" lengthAdjust="spacingAndGlyphs">C</text>
<text x="671.27" y="626.5" font-size="25.6" font-family="'Liberation Mono', monospace" fill="#111" textLength="9.9" lengthAdjust="spacingAndGlyphs">I</text>
<text x="693.63" y="626.5" font-size="24.5" fill="#111" textLength="17.02" lengthAdjust="spacingAndGlyphs">N</text>
<text x="720.36" y="626.5" font-size="24.5" fill="#111" textLength="15.86" lengthAdjust="spacingAndGlyphs">H</text>
<text x="745.97" y="626.5" font-size="24.5" fill="#111" textLength="16.39" lengthAdjust="spacingAndGlyphs">G</text>
<text x="773.13" y="626.5" font-size="24.5" fill="#111" textLength="13.99" lengthAdjust="spacingAndGlyphs">C</text>
<text x="801.35" y="626.5" font-size="25.6" font-family="'Liberation Mono', monospace" fill="#111" textLength="9.9" lengthAdjust="spacingAndGlyphs">I</text>
<text x="823.71" y="626.5" font-size="24.5" fill="#111" textLength="17.02" lengthAdjust="spacingAndGlyphs">N</text>
<text x="850.44" y="626.5" font-size="24.5" fill="#111" textLength="15.86" lengthAdjust="spacingAndGlyphs">H</text>
<text x="876.05" y="626.5" font-size="24.5" fill="#111" textLength="16.39" lengthAdjust="spacingAndGlyphs">G</text>
<text x="903.21" y="626.5" font-size="24.5" fill="#111" textLength="13.99" lengthAdjust="spacingAndGlyphs">C</text>
<text x="931.43" y="626.5" font-size="25.6" font-family="'Liberation Mono', monospace" fill="#111" textLength="9.9" lengthAdjust="spacingAndGlyphs">I</text>
<text x="953.79" y="626.5" font-size="24.5" fill="#111" textLength="17.02" lengthAdjust="spacingAndGlyphs">N</text>
<text x="980.52" y="626.5" font-size="24.5" fill="#111" textLength="15.86" lengthAdjust="spacingAndGlyphs">H</text>
<text x="1006.13" y="626.5" font-size="24.5" fill="#111" textLength="16.39" lengthAdjust="spacingAndGlyphs">G</text>
</g>
<text x="87.33" y="617.95" font-size="27.5" fill="#262626" textLength="15.28" lengthAdjust="spacingAndGlyphs">2</text>
<text x="66.09" y="695.75" font-size="27.5" fill="#262626" textLength="36.36" lengthAdjust="spacingAndGlyphs">1.5</text>
<text x="86.61" y="773.55" font-size="27.5" fill="#262626" textLength="14.75" lengthAdjust="spacingAndGlyphs">1</text>
<text x="65.85" y="851.35" font-size="27.5" fill="#262626" textLength="36.5" lengthAdjust="spacingAndGlyphs">0.5</text>
<text x="87.72" y="929.15" font-size="27.5" fill="#262626" textLength="14.99" lengthAdjust="spacingAndGlyphs">0</text>
<text x="56.71" y="1006.95" font-size="27.5" fill="#262626" textLength="45.74" lengthAdjust="spacingAndGlyphs">-0.5</text>
<text x="78.66" y="1084.75" font-size="27.5" fill="#262626" textLength="22.59" lengthAdjust="spacingAndGlyphs">-1</text>
<text x="153.79" y="1108.9" font-size="27.7" fill="#262626" textLength="43.09" lengthAdjust="spacingAndGlyphs">Net</text>
<text x="292.94" y="1108.9" font-size="27.7" fill="#262626" textLength="37.79" lengthAdjust="spacingAndGlyphs">SW</text>
<text x="423.23" y="1108.9" font-size="27.7" fill="#262626" textLength="36.81" lengthAdjust="spacingAndGlyphs">LW</text>
<text y="1108.9" font-size="27.7" fill="#262626"><tspan x="528.75" textLength="37.69" lengthAdjust="spacingAndGlyphs">SW</tspan><tspan x="566.84" dy="13.25" font-size="22.3" textLength="46.44" lengthAdjust="spacingAndGlyphs">clear</tspan></text>
<text y="1108.9" font-size="27.7" fill="#262626"><tspan x="656.25" textLength="37.48" lengthAdjust="spacingAndGlyphs">SW</tspan><tspan x="693.89" dy="13.25" font-size="22.3" textLength="53.68" lengthAdjust="spacingAndGlyphs">cloud</tspan></text>
<text y="1108.9" font-size="27.7" fill="#262626"><tspan x="789.03" textLength="36.81" lengthAdjust="spacingAndGlyphs">LW</tspan><tspan x="826.23" dy="13.25" font-size="22.3" textLength="46.75" lengthAdjust="spacingAndGlyphs">clear</tspan></text>
<text y="1108.9" font-size="27.7" fill="#262626"><tspan x="916.76" textLength="36.28" lengthAdjust="spacingAndGlyphs">LW</tspan><tspan x="953.69" dy="13.25" font-size="22.3" textLength="53.68" lengthAdjust="spacingAndGlyphs">cloud</tspan></text>
<text y="599.4" font-size="30.4" font-weight="bold" fill="#000"><tspan x="373.2" textLength="230.51" lengthAdjust="spacingAndGlyphs">Trend 2001-2019</tspan> <tspan x="610.85" textLength="155.22" lengthAdjust="spacingAndGlyphs">(90°S-30°S)</tspan></text>
<text x="2.11" y="595.6" font-size="27.6" font-weight="bold" fill="#000" textLength="16.57" lengthAdjust="spacingAndGlyphs">d</text>
<text transform="translate(44.9,0) rotate(-90)" y="0" fill="#262626"><tspan x="-952.65" font-size="30" textLength="29.11" lengthAdjust="spacingAndGlyphs">EE</tspan><tspan x="-923.32" font-size="31.4" font-family="'Liberation Mono', monospace" textLength="11.55" lengthAdjust="spacingAndGlyphs">I</tspan> <tspan x="-905.5" font-size="30" textLength="35.19" lengthAdjust="spacingAndGlyphs">(W</tspan> <tspan x="-861.71" font-size="30" textLength="24.52" lengthAdjust="spacingAndGlyphs">m</tspan><tspan x="-835.52" dy="-14.6" font-size="24.3" textLength="20.13" lengthAdjust="spacingAndGlyphs">-2</tspan> <tspan x="-806.95" dy="14.6" font-size="30" textLength="46.54" lengthAdjust="spacingAndGlyphs">dec</tspan><tspan x="-759.77" dy="-14.6" font-size="24.3" textLength="19.13" lengthAdjust="spacingAndGlyphs">-1</tspan><tspan x="-739.09" dy="14.6" font-size="30" textLength="9.74" lengthAdjust="spacingAndGlyphs">)</tspan></text>
</g>
</svg>
</body>
</html>
